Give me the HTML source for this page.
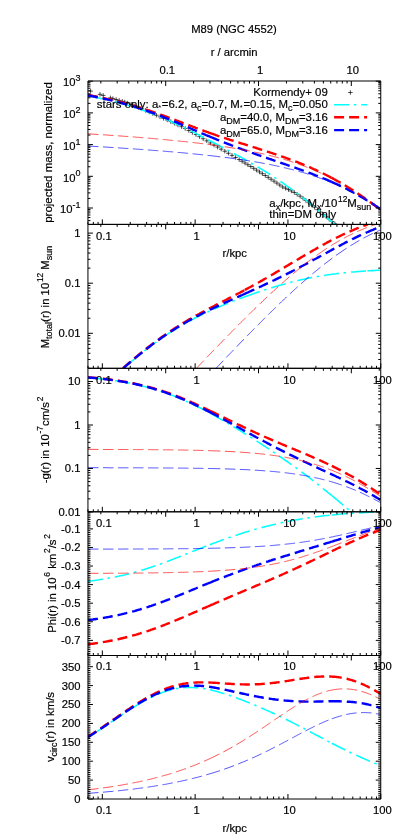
<!DOCTYPE html>
<html><head><meta charset="utf-8"><title>M89 (NGC 4552)</title>
<style>html,body{margin:0;padding:0;background:#fff}svg{display:block;filter:grayscale(0)}text{stroke:#000;stroke-width:0.18px}</style></head>
<body>
<svg width="407" height="840" viewBox="0 0 407 840" font-family="Liberation Sans, sans-serif" font-size="11.25" fill="#000">
<defs>
<clipPath id="c0"><rect x="87.95" y="81.0" width="292.8" height="143.4"/></clipPath>
<clipPath id="c1"><rect x="87.95" y="224.4" width="292.8" height="143.9"/></clipPath>
<clipPath id="c2"><rect x="87.95" y="368.3" width="292.8" height="143.5"/></clipPath>
<clipPath id="c3"><rect x="87.95" y="511.8" width="292.8" height="143.7"/></clipPath>
<clipPath id="c4"><rect x="87.95" y="655.5" width="292.8" height="143.5"/></clipPath>
</defs>
<rect width="407" height="840" fill="#fff"/>
<g clip-path="url(#c0)" fill="none">
<path d="M88.35,91.14h4.5M90.60,88.89v4.5M97.75,94.33h4.5M100.00,92.08v4.5M100.95,95.43h4.5M103.20,93.18v4.5M108.15,97.86h4.5M110.40,95.61v4.5M110.65,98.64h4.5M112.90,96.39v4.5M113.85,99.53h4.5M116.10,97.28v4.5M116.95,100.43h4.5M119.20,98.18v4.5M120.05,101.35h4.5M122.30,99.10v4.5M122.55,102.12h4.5M124.80,99.87v4.5M125.35,103.11h4.5M127.60,100.86v4.5M128.95,104.48h4.5M131.20,102.23v4.5M132.55,105.89h4.5M134.80,103.64v4.5M136.15,107.35h4.5M138.40,105.10v4.5M139.75,108.85h4.5M142.00,106.60v4.5M143.35,110.39h4.5M145.60,108.14v4.5M146.95,111.95h4.5M149.20,109.70v4.5M150.55,113.57h4.5M152.80,111.32v4.5M154.15,115.22h4.5M156.40,112.97v4.5M157.75,116.82h4.5M160.00,114.57v4.5M161.35,118.36h4.5M163.60,116.11v4.5M164.95,119.95h4.5M167.20,117.70v4.5M168.55,121.59h4.5M170.80,119.34v4.5M172.15,123.26h4.5M174.40,121.01v4.5M175.75,124.97h4.5M178.00,122.72v4.5M179.35,126.71h4.5M181.60,124.46v4.5M182.95,128.49h4.5M185.20,126.24v4.5M186.55,130.47h4.5M188.80,128.22v4.5M190.15,132.50h4.5M192.40,130.25v4.5M193.75,134.56h4.5M196.00,132.31v4.5M197.35,136.64h4.5M199.60,134.39v4.5M200.95,138.73h4.5M203.20,136.48v4.5M204.55,140.83h4.5M206.80,138.58v4.5M208.15,142.95h4.5M210.40,140.70v4.5M211.75,145.07h4.5M214.00,142.82v4.5M215.35,147.10h4.5M217.60,144.85v4.5M218.95,149.15h4.5M221.20,146.90v4.5M222.55,151.20h4.5M224.80,148.95v4.5M226.15,153.26h4.5M228.40,151.01v4.5M229.75,155.35h4.5M232.00,153.10v4.5M233.35,157.44h4.5M235.60,155.19v4.5M236.95,159.55h4.5M239.20,157.30v4.5M239.85,161.26h4.5M242.10,159.01v4.5M242.75,162.99h4.5M245.00,160.74v4.5M245.65,164.74h4.5M247.90,162.49v4.5M248.55,166.51h4.5M250.80,164.26v4.5M251.45,168.30h4.5M253.70,166.05v4.5M254.35,170.12h4.5M256.60,167.87v4.5M257.25,171.93h4.5M259.50,169.68v4.5M260.15,173.70h4.5M262.40,171.45v4.5M263.05,175.51h4.5M265.30,173.26v4.5M265.95,177.35h4.5M268.20,175.10v4.5M268.85,179.22h4.5M271.10,176.97v4.5M271.75,181.13h4.5M274.00,178.88v4.5M274.65,183.07h4.5M276.90,180.82v4.5M277.55,185.04h4.5M279.80,182.79v4.5M280.45,186.97h4.5M282.70,184.72v4.5M283.35,188.25h4.5M285.60,186.00v4.5M286.25,189.58h4.5M288.50,187.33v4.5M289.15,190.94h4.5M291.40,188.69v4.5M292.05,192.45h4.5M294.30,190.20v4.5M294.95,194.29h4.5M297.20,192.04v4.5M297.85,196.17h4.5M300.10,193.92v4.5M300.75,198.20h4.5M303.00,195.95v4.5M303.65,200.43h4.5M305.90,198.18v4.5M306.55,202.69h4.5M308.80,200.44v4.5M309.45,204.99h4.5M311.70,202.74v4.5M312.35,207.31h4.5M314.60,205.06v4.5M315.25,209.67h4.5M317.50,207.42v4.5M318.15,212.06h4.5M320.40,209.81v4.5M321.05,214.38h4.5M323.30,212.13v4.5M323.95,216.72h4.5M326.20,214.47v4.5M326.85,219.09h4.5M329.10,216.84v4.5M329.75,221.49h4.5M332.00,219.24v4.5M332.65,223.91h4.5M334.90,221.66v4.5M335.55,226.35h4.5M337.80,224.10v4.5" stroke="#000" stroke-width="0.7"/>
<path d="M88.0,95.8 89.0,96.0 90.0,96.2 91.0,96.4 92.0,96.6 93.0,96.8 94.0,97.0 95.0,97.2 96.0,97.4 97.0,97.6 98.0,97.9 99.0,98.1 100.0,98.3 101.0,98.5 102.1,98.7 103.1,99.0 104.1,99.2 105.1,99.4 106.1,99.6 107.1,99.9 108.1,100.1 109.1,100.4 110.1,100.6 111.1,100.9 112.1,101.1 113.1,101.4 114.1,101.6 115.2,101.9 116.2,102.1 117.2,102.4 118.2,102.7 119.2,102.9 120.2,103.2 121.2,103.5 122.2,103.8 123.2,104.1 124.2,104.3 125.2,104.6 126.2,104.9 127.2,105.2 128.2,105.5 129.3,105.8 130.3,106.1 131.3,106.4 132.3,106.8 133.3,107.1 134.3,107.4 135.3,107.7 136.3,108.0 137.3,108.4 138.3,108.7 139.3,109.0 140.3,109.4 141.3,109.7 142.4,110.1 143.4,110.4 144.4,110.8 145.4,111.2 146.4,111.5 147.4,111.9 148.4,112.3 149.4,112.6 150.4,113.0 151.4,113.4 152.4,113.8 153.4,114.2 154.4,114.6 155.4,115.0 156.5,115.4 157.5,115.8 158.5,116.2 159.5,116.6 160.5,117.0 161.5,117.4 162.5,117.8 163.5,118.3 164.5,118.7 165.5,119.1 166.5,119.6 167.5,120.0 168.5,120.4 169.6,120.9 170.6,121.3 171.6,121.8 172.6,122.2 173.6,122.7 174.6,123.2 175.6,123.6 176.6,124.1 177.6,124.6 178.6,125.0 179.6,125.5 180.6,126.0 181.6,126.5 182.6,127.0 183.7,127.4 184.7,127.9 185.7,128.4 186.7,128.9 187.7,129.4 188.7,129.9 189.7,130.4 190.7,130.9 191.7,131.4 192.7,131.9 193.7,132.4 194.7,132.9 195.7,133.4 196.8,133.9 197.8,134.4 198.8,135.0 199.8,135.5 200.8,136.0 201.8,136.5 202.8,137.0 203.8,137.5 204.8,138.1 205.8,138.6 206.8,139.1 207.8,139.6 208.8,140.1 209.9,140.7M209.9,140.7 210.9,141.2 211.9,141.7 212.9,142.2 213.9,142.8 214.9,143.3 215.9,143.8 216.9,144.4 217.9,144.9 218.9,145.4 219.9,145.9 220.9,146.5 221.9,147.0 222.9,147.5 224.0,148.1 225.0,148.6 226.0,149.1 227.0,149.7 228.0,150.2 229.0,150.8 230.0,151.3 231.0,151.8 232.0,152.4 233.0,152.9 234.0,153.5 235.0,154.0 236.0,154.6 237.1,155.1 238.1,155.7 239.1,156.2 240.1,156.8 241.1,157.3 242.1,157.9 243.1,158.4 244.1,159.0 245.1,159.6 246.1,160.1 247.1,160.7 248.1,161.3 249.1,161.9 250.1,162.4 251.2,163.0 252.2,163.6 253.2,164.2 254.2,164.8 255.2,165.4 256.2,166.0 257.2,166.5 258.2,167.2 259.2,167.8 260.2,168.4 261.2,169.0 262.2,169.6 263.2,170.2 264.3,170.8 265.3,171.5 266.3,172.1 267.3,172.7 268.3,173.4 269.3,174.0 270.3,174.6 271.3,175.3 272.3,175.9 273.3,176.6 274.3,177.3 275.3,177.9 276.3,178.6 277.3,179.3 278.4,180.0 279.4,180.6 280.4,181.3 281.4,182.0 282.4,182.7 283.4,183.4 284.4,184.1 285.4,184.8 286.4,185.5 287.4,186.3 288.4,187.0 289.4,187.7 290.4,188.4 291.5,189.2 292.5,189.9 293.5,190.7 294.5,191.4 295.5,192.2 296.5,192.9 297.5,193.7 298.5,194.4 299.5,195.2 300.5,196.0 301.5,196.8 302.5,197.5 303.5,198.3 304.5,199.1 305.6,199.9 306.6,200.7 307.6,201.5 308.6,202.3 309.6,203.1 310.6,203.9 311.6,204.8 312.6,205.6 313.6,206.4 314.6,207.2 315.6,208.1 316.6,208.9 317.6,209.7 318.7,210.6 319.7,211.4 320.7,212.3 321.7,213.1 322.7,214.0 323.7,214.9 324.7,215.7 325.7,216.6 326.7,217.5 327.7,218.3 328.7,219.2 329.7,220.1 330.7,221.0 331.8,221.9M331.8,221.9 333.2,223.1 334.6,224.4" stroke="#00ffff" stroke-width="1.55" stroke-dasharray="15 4.7 2.5 5"/>
<path d="M88.0,95.0 89.0,95.2 90.0,95.3 91.0,95.5 92.0,95.7 93.0,95.9 94.0,96.1 95.0,96.3 96.0,96.5 97.0,96.7 98.0,96.9 99.0,97.1 100.0,97.3 101.0,97.5 102.1,97.8 103.1,98.0 104.1,98.2 105.1,98.4 106.1,98.6 107.1,98.9 108.1,99.1 109.1,99.3 110.1,99.5 111.1,99.8 112.1,100.0 113.1,100.3 114.1,100.5 115.2,100.7 116.2,101.0 117.2,101.2 118.2,101.5 119.2,101.7 120.2,102.0 121.2,102.3 122.2,102.5 123.2,102.8 124.2,103.1 125.2,103.3 126.2,103.6 127.2,103.9 128.2,104.1 129.3,104.4 130.3,104.7 131.3,105.0 132.3,105.3 133.3,105.6 134.3,105.9 135.3,106.2 136.3,106.5 137.3,106.8 138.3,107.1 139.3,107.4 140.3,107.7 141.3,108.0 142.4,108.3 143.4,108.7 144.4,109.0 145.4,109.3 146.4,109.6 147.4,110.0 148.4,110.3 149.4,110.6 150.4,111.0 151.4,111.3 152.4,111.7 153.4,112.0 154.4,112.4 155.4,112.7 156.5,113.1 157.5,113.4 158.5,113.8 159.5,114.1 160.5,114.5 161.5,114.9 162.5,115.2 163.5,115.6 164.5,116.0 165.5,116.3 166.5,116.7 167.5,117.1 168.5,117.5 169.6,117.8 170.6,118.2 171.6,118.6 172.6,119.0 173.6,119.4 174.6,119.7 175.6,120.1 176.6,120.5 177.6,120.9 178.6,121.3 179.6,121.7 180.6,122.0 181.6,122.4 182.6,122.8 183.7,123.2 184.7,123.6 185.7,124.0 186.7,124.4 187.7,124.7 188.7,125.1 189.7,125.5 190.7,125.9 191.7,126.3 192.7,126.7 193.7,127.0 194.7,127.4 195.7,127.8 196.8,128.2 197.8,128.6 198.8,128.9 199.8,129.3 200.8,129.7 201.8,130.1 202.8,130.4 203.8,130.8 204.8,131.2 205.8,131.5 206.8,131.9 207.8,132.2 208.8,132.6 209.9,133.0M209.9,133.0 210.9,133.3 211.9,133.7 212.9,134.0 213.9,134.4 214.9,134.7 215.9,135.1 216.9,135.4 217.9,135.8 218.9,136.1 219.9,136.4 220.9,136.8 221.9,137.1 222.9,137.4 224.0,137.8 225.0,138.1 226.0,138.4 227.0,138.8 228.0,139.1 229.0,139.4 230.0,139.8 231.0,140.1 232.0,140.4 233.0,140.7 234.0,141.0 235.0,141.4 236.0,141.7 237.1,142.0 238.1,142.3 239.1,142.6 240.1,143.0 241.1,143.3 242.1,143.6 243.1,143.9 244.1,144.2 245.1,144.5 246.1,144.9 247.1,145.2 248.1,145.5 249.1,145.8 250.1,146.1 251.2,146.4 252.2,146.8 253.2,147.1 254.2,147.4 255.2,147.7 256.2,148.0 257.2,148.3 258.2,148.7 259.2,149.0 260.2,149.3 261.2,149.6 262.2,149.9 263.2,150.3 264.3,150.6 265.3,150.9 266.3,151.2 267.3,151.6 268.3,151.9 269.3,152.2 270.3,152.6 271.3,152.9 272.3,153.2 273.3,153.6 274.3,153.9 275.3,154.2 276.3,154.6 277.3,154.9 278.4,155.3 279.4,155.6 280.4,155.9 281.4,156.3 282.4,156.7 283.4,157.0 284.4,157.4 285.4,157.7 286.4,158.1 287.4,158.4 288.4,158.8 289.4,159.2 290.4,159.6 291.5,159.9 292.5,160.3 293.5,160.7 294.5,161.1 295.5,161.5 296.5,161.8 297.5,162.2 298.5,162.6 299.5,163.0 300.5,163.4 301.5,163.8 302.5,164.2 303.5,164.7 304.5,165.1 305.6,165.5 306.6,165.9 307.6,166.3 308.6,166.8 309.6,167.2 310.6,167.6 311.6,168.1 312.6,168.5 313.6,169.0 314.6,169.4 315.6,169.9 316.6,170.4 317.6,170.8 318.7,171.3 319.7,171.8 320.7,172.3 321.7,172.8 322.7,173.2 323.7,173.7 324.7,174.2 325.7,174.8 326.7,175.3 327.7,175.8 328.7,176.3 329.7,176.8 330.7,177.4 331.8,177.9M331.8,177.9 332.8,178.4 333.8,179.0 334.8,179.5 335.8,180.1 336.8,180.6 337.8,181.2 338.8,181.7 339.8,182.3 340.8,182.9 341.8,183.5 342.8,184.1 343.8,184.7 344.8,185.3 345.8,185.9 346.8,186.5 347.8,187.1 348.8,187.7 349.8,188.3 350.8,189.0 351.8,189.6 352.8,190.2 353.8,190.9 354.8,191.5 355.8,192.2 356.8,192.8 357.8,193.5 358.8,194.2 359.8,194.8 360.8,195.5 361.8,196.2 362.8,196.9 363.8,197.6 364.8,198.3 365.8,199.0 366.8,199.7 367.8,200.4 368.8,201.2 369.8,201.9 370.8,202.6 371.8,203.3 372.8,204.1 373.8,204.8 374.8,205.6 375.8,206.3 376.8,207.1 377.8,207.9 378.8,208.6 379.8,209.4 380.8,210.2" stroke="#ff0000" stroke-width="2.4" stroke-dasharray="10 5"/>
<path d="M88.0,95.5 89.0,95.7 90.0,95.8 91.0,96.0 92.0,96.2 93.0,96.4 94.0,96.6 95.0,96.8 96.0,97.0 97.0,97.2 98.0,97.5 99.0,97.7 100.0,97.9 101.0,98.1 102.1,98.3 103.1,98.5 104.1,98.8 105.1,99.0 106.1,99.2 107.1,99.4 108.1,99.7 109.1,99.9 110.1,100.2 111.1,100.4 112.1,100.6 113.1,100.9 114.1,101.1 115.2,101.4 116.2,101.6 117.2,101.9 118.2,102.2 119.2,102.4 120.2,102.7 121.2,103.0 122.2,103.2 123.2,103.5 124.2,103.8 125.2,104.1 126.2,104.4 127.2,104.6 128.2,104.9 129.3,105.2 130.3,105.5 131.3,105.8 132.3,106.1 133.3,106.4 134.3,106.7 135.3,107.0 136.3,107.4 137.3,107.7 138.3,108.0 139.3,108.3 140.3,108.7 141.3,109.0 142.4,109.3 143.4,109.7 144.4,110.0 145.4,110.3 146.4,110.7 147.4,111.0 148.4,111.4 149.4,111.8 150.4,112.1 151.4,112.5 152.4,112.8 153.4,113.2 154.4,113.6 155.4,114.0 156.5,114.3 157.5,114.7 158.5,115.1 159.5,115.5 160.5,115.9 161.5,116.3 162.5,116.7 163.5,117.1 164.5,117.5 165.5,117.9 166.5,118.3 167.5,118.7 168.5,119.1 169.6,119.5 170.6,119.9 171.6,120.3 172.6,120.7 173.6,121.2 174.6,121.6 175.6,122.0 176.6,122.4 177.6,122.8 178.6,123.3 179.6,123.7 180.6,124.1 181.6,124.6 182.6,125.0 183.7,125.4 184.7,125.9 185.7,126.3 186.7,126.7 187.7,127.2 188.7,127.6 189.7,128.0 190.7,128.5 191.7,128.9 192.7,129.3 193.7,129.8 194.7,130.2 195.7,130.7 196.8,131.1 197.8,131.5 198.8,132.0 199.8,132.4 200.8,132.8 201.8,133.3 202.8,133.7 203.8,134.1 204.8,134.5 205.8,135.0 206.8,135.4 207.8,135.8 208.8,136.2 209.9,136.7M209.9,136.7 210.9,137.1 211.9,137.5 212.9,137.9 213.9,138.3 214.9,138.7 215.9,139.2 216.9,139.6 217.9,140.0 218.9,140.4 219.9,140.8 220.9,141.2 221.9,141.6 222.9,142.0 224.0,142.4 225.0,142.8 226.0,143.2 227.0,143.6 228.0,144.0 229.0,144.3 230.0,144.7 231.0,145.1 232.0,145.5 233.0,145.9 234.0,146.3 235.0,146.6 236.0,147.0 237.1,147.4 238.1,147.8 239.1,148.1 240.1,148.5 241.1,148.9 242.1,149.3 243.1,149.6 244.1,150.0 245.1,150.4 246.1,150.7 247.1,151.1 248.1,151.4 249.1,151.8 250.1,152.2 251.2,152.5 252.2,152.9 253.2,153.2 254.2,153.6 255.2,153.9 256.2,154.3 257.2,154.7 258.2,155.0 259.2,155.4 260.2,155.7 261.2,156.1 262.2,156.4 263.2,156.8 264.3,157.1 265.3,157.5 266.3,157.8 267.3,158.2 268.3,158.5 269.3,158.9 270.3,159.2 271.3,159.5 272.3,159.9 273.3,160.2 274.3,160.6 275.3,160.9 276.3,161.3 277.3,161.6 278.4,162.0 279.4,162.3 280.4,162.7 281.4,163.0 282.4,163.3 283.4,163.7 284.4,164.0 285.4,164.4 286.4,164.7 287.4,165.1 288.4,165.4 289.4,165.8 290.4,166.1 291.5,166.5 292.5,166.8 293.5,167.2 294.5,167.5 295.5,167.9 296.5,168.2 297.5,168.6 298.5,168.9 299.5,169.3 300.5,169.7 301.5,170.0 302.5,170.4 303.5,170.7 304.5,171.1 305.6,171.5 306.6,171.8 307.6,172.2 308.6,172.6 309.6,173.0 310.6,173.3 311.6,173.7 312.6,174.1 313.6,174.5 314.6,174.9 315.6,175.3 316.6,175.6 317.6,176.0 318.7,176.4 319.7,176.8 320.7,177.2 321.7,177.7 322.7,178.1 323.7,178.5 324.7,178.9 325.7,179.3 326.7,179.7 327.7,180.2 328.7,180.6 329.7,181.0 330.7,181.5 331.8,181.9M331.8,181.9 332.8,182.4 333.8,182.8 334.8,183.3 335.8,183.7 336.8,184.2 337.8,184.6 338.8,185.1 339.8,185.6 340.8,186.1 341.8,186.5 342.8,187.0 343.8,187.5 344.8,188.0 345.8,188.5 346.8,189.0 347.8,189.5 348.8,190.1 349.8,190.6 350.8,191.1 351.8,191.6 352.8,192.2 353.8,192.7 354.8,193.3 355.8,193.8 356.8,194.4 357.8,194.9 358.8,195.5 359.8,196.1 360.8,196.6 361.8,197.2 362.8,197.8 363.8,198.4 364.8,199.0 365.8,199.6 366.8,200.2 367.8,200.8 368.8,201.5 369.8,202.1 370.8,202.7 371.8,203.3 372.8,204.0 373.8,204.6 374.8,205.3 375.8,205.9 376.8,206.6 377.8,207.3 378.8,207.9 379.8,208.6 380.8,209.3" stroke="#0000ff" stroke-width="2.4" stroke-dasharray="10 5"/>
<path d="M88.0,133.8 89.0,133.9 90.0,133.9 91.0,134.0 92.0,134.1 93.0,134.1 94.0,134.2 95.0,134.3 96.0,134.3 97.0,134.4 98.0,134.5 99.0,134.5 100.0,134.6 101.0,134.6 102.1,134.7 103.1,134.8 104.1,134.8 105.1,134.9 106.1,135.0 107.1,135.0 108.1,135.1 109.1,135.2 110.1,135.3 111.1,135.3 112.1,135.4 113.1,135.5 114.1,135.5 115.2,135.6 116.2,135.7 117.2,135.7 118.2,135.8 119.2,135.9 120.2,136.0 121.2,136.0 122.2,136.1 123.2,136.2 124.2,136.3 125.2,136.3 126.2,136.4 127.2,136.5 128.2,136.6 129.3,136.6 130.3,136.7 131.3,136.8 132.3,136.9 133.3,136.9 134.3,137.0 135.3,137.1 136.3,137.2 137.3,137.3 138.3,137.3 139.3,137.4 140.3,137.5 141.3,137.6 142.4,137.7 143.4,137.7 144.4,137.8 145.4,137.9 146.4,138.0 147.4,138.1 148.4,138.2 149.4,138.2 150.4,138.3 151.4,138.4 152.4,138.5 153.4,138.6 154.4,138.7 155.4,138.8 156.5,138.9 157.5,138.9 158.5,139.0 159.5,139.1 160.5,139.2 161.5,139.3 162.5,139.4 163.5,139.5 164.5,139.6 165.5,139.7 166.5,139.8 167.5,139.9 168.5,140.0 169.6,140.1 170.6,140.2 171.6,140.3 172.6,140.4 173.6,140.5 174.6,140.6 175.6,140.7 176.6,140.8 177.6,140.9 178.6,141.0 179.6,141.1 180.6,141.2 181.6,141.3 182.6,141.4 183.7,141.5 184.7,141.6 185.7,141.7 186.7,141.8 187.7,141.9 188.7,142.1 189.7,142.2 190.7,142.3 191.7,142.4 192.7,142.5 193.7,142.6 194.7,142.7 195.7,142.9 196.8,143.0 197.8,143.1 198.8,143.2 199.8,143.3 200.8,143.5 201.8,143.6 202.8,143.7 203.8,143.8 204.8,144.0 205.8,144.1 206.8,144.2 207.8,144.4 208.8,144.5 209.9,144.6M209.9,144.6 210.9,144.8 211.9,144.9 212.9,145.0 213.9,145.2 214.9,145.3 215.9,145.4 216.9,145.6 217.9,145.7 218.9,145.9 219.9,146.0 220.9,146.2 221.9,146.3 222.9,146.5 224.0,146.6 225.0,146.8 226.0,146.9 227.0,147.1 228.0,147.2 229.0,147.4 230.0,147.6 231.0,147.7 232.0,147.9 233.0,148.0 234.0,148.2 235.0,148.4 236.0,148.6 237.1,148.7 238.1,148.9 239.1,149.1 240.1,149.3 241.1,149.4 242.1,149.6 243.1,149.8 244.1,150.0 245.1,150.2 246.1,150.4 247.1,150.6 248.1,150.7 249.1,150.9 250.1,151.1 251.2,151.3 252.2,151.5 253.2,151.8 254.2,152.0 255.2,152.2 256.2,152.4 257.2,152.6 258.2,152.8 259.2,153.0 260.2,153.3 261.2,153.5 262.2,153.7 263.2,153.9 264.3,154.2 265.3,154.4 266.3,154.7 267.3,154.9 268.3,155.1 269.3,155.4 270.3,155.6 271.3,155.9 272.3,156.1 273.3,156.4 274.3,156.7 275.3,156.9 276.3,157.2 277.3,157.5 278.4,157.8 279.4,158.0 280.4,158.3 281.4,158.6 282.4,158.9 283.4,159.2 284.4,159.5 285.4,159.8 286.4,160.1 287.4,160.4 288.4,160.7 289.4,161.0 290.4,161.4 291.5,161.7 292.5,162.0 293.5,162.3 294.5,162.7 295.5,163.0 296.5,163.4 297.5,163.7 298.5,164.1 299.5,164.4 300.5,164.8 301.5,165.2 302.5,165.5 303.5,165.9 304.5,166.3 305.6,166.7 306.6,167.1 307.6,167.5 308.6,167.9 309.6,168.3 310.6,168.7 311.6,169.1 312.6,169.5 313.6,169.9 314.6,170.4 315.6,170.8 316.6,171.2 317.6,171.7 318.7,172.1 319.7,172.6 320.7,173.0 321.7,173.5 322.7,174.0 323.7,174.5 324.7,174.9 325.7,175.4 326.7,175.9 327.7,176.4 328.7,176.9 329.7,177.4 330.7,177.9 331.8,178.5M331.8,178.5 332.8,179.0 333.8,179.5 334.8,180.0 335.8,180.6 336.8,181.1 337.8,181.7 338.8,182.2 339.8,182.8 340.8,183.4 341.8,183.9 342.8,184.5 343.8,185.1 344.8,185.7 345.8,186.3 346.8,186.9 347.8,187.5 348.8,188.1 349.8,188.7 350.8,189.3 351.8,189.9 352.8,190.6 353.8,191.2 354.8,191.9 355.8,192.5 356.8,193.2 357.8,193.8 358.8,194.5 359.8,195.2 360.8,195.8 361.8,196.5 362.8,197.2 363.8,197.9 364.8,198.6 365.8,199.3 366.8,200.0 367.8,200.7 368.8,201.4 369.8,202.1 370.8,202.9 371.8,203.6 372.8,204.3 373.8,205.1 374.8,205.8 375.8,206.6 376.8,207.3 377.8,208.1 378.8,208.8 379.8,209.6 380.8,210.4" stroke="#ff0000" stroke-width="0.68" stroke-dasharray="10.5 4.5"/>
<path d="M88.0,146.0 89.0,146.1 90.0,146.1 91.0,146.2 92.0,146.3 93.0,146.3 94.0,146.4 95.0,146.4 96.0,146.5 97.0,146.6 98.0,146.6 99.0,146.7 100.0,146.7 101.0,146.8 102.1,146.9 103.1,146.9 104.1,147.0 105.1,147.0 106.1,147.1 107.1,147.2 108.1,147.2 109.1,147.3 110.1,147.3 111.1,147.4 112.1,147.5 113.1,147.5 114.1,147.6 115.2,147.7 116.2,147.7 117.2,147.8 118.2,147.9 119.2,147.9 120.2,148.0 121.2,148.1 122.2,148.1 123.2,148.2 124.2,148.3 125.2,148.3 126.2,148.4 127.2,148.5 128.2,148.5 129.3,148.6 130.3,148.7 131.3,148.7 132.3,148.8 133.3,148.9 134.3,148.9 135.3,149.0 136.3,149.1 137.3,149.2 138.3,149.2 139.3,149.3 140.3,149.4 141.3,149.4 142.4,149.5 143.4,149.6 144.4,149.7 145.4,149.7 146.4,149.8 147.4,149.9 148.4,150.0 149.4,150.0 150.4,150.1 151.4,150.2 152.4,150.3 153.4,150.4 154.4,150.4 155.4,150.5 156.5,150.6 157.5,150.7 158.5,150.7 159.5,150.8 160.5,150.9 161.5,151.0 162.5,151.1 163.5,151.2 164.5,151.2 165.5,151.3 166.5,151.4 167.5,151.5 168.5,151.6 169.6,151.7 170.6,151.7 171.6,151.8 172.6,151.9 173.6,152.0 174.6,152.1 175.6,152.2 176.6,152.3 177.6,152.4 178.6,152.5 179.6,152.5 180.6,152.6 181.6,152.7 182.6,152.8 183.7,152.9 184.7,153.0 185.7,153.1 186.7,153.2 187.7,153.3 188.7,153.4 189.7,153.5 190.7,153.6 191.7,153.7 192.7,153.8 193.7,153.9 194.7,154.0 195.7,154.1 196.8,154.2 197.8,154.3 198.8,154.4 199.8,154.5 200.8,154.6 201.8,154.7 202.8,154.8 203.8,154.9 204.8,155.0 205.8,155.2 206.8,155.3 207.8,155.4 208.8,155.5 209.9,155.6M209.9,155.6 210.9,155.7 211.9,155.8 212.9,155.9 213.9,156.1 214.9,156.2 215.9,156.3 216.9,156.4 217.9,156.5 218.9,156.7 219.9,156.8 220.9,156.9 221.9,157.0 222.9,157.2 224.0,157.3 225.0,157.4 226.0,157.5 227.0,157.7 228.0,157.8 229.0,157.9 230.0,158.1 231.0,158.2 232.0,158.3 233.0,158.5 234.0,158.6 235.0,158.7 236.0,158.9 237.1,159.0 238.1,159.2 239.1,159.3 240.1,159.5 241.1,159.6 242.1,159.8 243.1,159.9 244.1,160.1 245.1,160.2 246.1,160.4 247.1,160.5 248.1,160.7 249.1,160.9 250.1,161.0 251.2,161.2 252.2,161.3 253.2,161.5 254.2,161.7 255.2,161.8 256.2,162.0 257.2,162.2 258.2,162.4 259.2,162.5 260.2,162.7 261.2,162.9 262.2,163.1 263.2,163.3 264.3,163.5 265.3,163.7 266.3,163.8 267.3,164.0 268.3,164.2 269.3,164.4 270.3,164.6 271.3,164.8 272.3,165.0 273.3,165.2 274.3,165.5 275.3,165.7 276.3,165.9 277.3,166.1 278.4,166.3 279.4,166.5 280.4,166.8 281.4,167.0 282.4,167.2 283.4,167.4 284.4,167.7 285.4,167.9 286.4,168.2 287.4,168.4 288.4,168.7 289.4,168.9 290.4,169.2 291.5,169.4 292.5,169.7 293.5,169.9 294.5,170.2 295.5,170.5 296.5,170.7 297.5,171.0 298.5,171.3 299.5,171.6 300.5,171.9 301.5,172.1 302.5,172.4 303.5,172.7 304.5,173.0 305.6,173.3 306.6,173.6 307.6,174.0 308.6,174.3 309.6,174.6 310.6,174.9 311.6,175.2 312.6,175.6 313.6,175.9 314.6,176.2 315.6,176.6 316.6,176.9 317.6,177.3 318.7,177.6 319.7,178.0 320.7,178.4 321.7,178.7 322.7,179.1 323.7,179.5 324.7,179.9 325.7,180.3 326.7,180.7 327.7,181.1 328.7,181.5 329.7,181.9 330.7,182.3 331.8,182.7M331.8,182.7 332.8,183.1 333.8,183.5 334.8,184.0 335.8,184.4 336.8,184.8 337.8,185.3 338.8,185.7 339.8,186.2 340.8,186.6 341.8,187.1 342.8,187.6 343.8,188.1 344.8,188.5 345.8,189.0 346.8,189.5 347.8,190.0 348.8,190.5 349.8,191.0 350.8,191.5 351.8,192.1 352.8,192.6 353.8,193.1 354.8,193.6 355.8,194.2 356.8,194.7 357.8,195.3 358.8,195.8 359.8,196.4 360.8,197.0 361.8,197.5 362.8,198.1 363.8,198.7 364.8,199.3 365.8,199.9 366.8,200.5 367.8,201.1 368.8,201.7 369.8,202.3 370.8,203.0 371.8,203.6 372.8,204.2 373.8,204.9 374.8,205.5 375.8,206.2 376.8,206.8 377.8,207.5 378.8,208.1 379.8,208.8 380.8,209.5" stroke="#0000ff" stroke-width="0.68" stroke-dasharray="10.5 4.5"/>
</g>
<g clip-path="url(#c1)" fill="none">
<path d="M123.6,368.3 124.6,367.4 125.6,366.5 126.6,365.6 127.6,364.7 128.6,363.9 129.6,363.0 130.6,362.2 131.6,361.3 132.7,360.5 133.7,359.6 134.7,358.8 135.7,357.9 136.7,357.1 137.7,356.3 138.7,355.5 139.7,354.6 140.7,353.8 141.7,353.0 142.7,352.2 143.7,351.4 144.7,350.6 145.7,349.8 146.8,349.1 147.8,348.3 148.8,347.5 149.8,346.8 150.8,346.0 151.8,345.2 152.8,344.5 153.8,343.7 154.8,343.0 155.8,342.3 156.8,341.5 157.8,340.8 158.8,340.1 159.9,339.4 160.9,338.7 161.9,338.0 162.9,337.3 163.9,336.6 164.9,335.9 165.9,335.2 166.9,334.6 167.9,333.9 168.9,333.2 169.9,332.6 170.9,331.9 171.9,331.3 173.0,330.7 174.0,330.0 175.0,329.4 176.0,328.8 177.0,328.2 178.0,327.6 179.0,327.0 180.0,326.4 181.0,325.8 182.0,325.2 183.0,324.6 184.0,324.0 185.0,323.4 186.0,322.9 187.1,322.3 188.1,321.8 189.1,321.2 190.1,320.7 191.1,320.1 192.1,319.6 193.1,319.1 194.1,318.5 195.1,318.0 196.1,317.5 197.1,317.0 198.1,316.5 199.1,316.0 200.2,315.5 201.2,315.0 202.2,314.5 203.2,314.0 204.2,313.5 205.2,313.1 206.2,312.6 207.2,312.1 208.2,311.7 209.2,311.2 210.2,310.7 211.2,310.3 212.2,309.8 213.2,309.4 214.3,309.0 215.3,308.5 216.3,308.1 217.3,307.6 218.3,307.2 219.3,306.8 220.3,306.4 221.3,305.9 222.3,305.5 223.3,305.1 224.3,304.7 225.3,304.3 226.3,303.9 227.4,303.5 228.4,303.1 229.4,302.7 230.4,302.3 231.4,301.9 232.4,301.5 233.4,301.1 234.4,300.7 235.4,300.3 236.4,299.9 237.4,299.6 238.4,299.2 239.4,298.8 240.4,298.4 241.5,298.0 242.5,297.7 243.5,297.3 244.5,296.9 245.5,296.6M245.5,296.6 246.5,296.2 247.5,295.8 248.5,295.5 249.5,295.1 250.5,294.7 251.5,294.4 252.5,294.0 253.5,293.7 254.6,293.3 255.6,293.0 256.6,292.6 257.6,292.3 258.6,292.0 259.6,291.6 260.6,291.3 261.6,290.9 262.6,290.6 263.6,290.3 264.6,289.9 265.6,289.6 266.6,289.3 267.6,289.0 268.7,288.6 269.7,288.3 270.7,288.0 271.7,287.7 272.7,287.4 273.7,287.1 274.7,286.8 275.7,286.5 276.7,286.2 277.7,285.9 278.7,285.6 279.7,285.3 280.7,285.0 281.8,284.7 282.8,284.4 283.8,284.2 284.8,283.9 285.8,283.6 286.8,283.3 287.8,283.1 288.8,282.8 289.8,282.5 290.8,282.3 291.8,282.0 292.8,281.8 293.8,281.5 294.9,281.3 295.9,281.0 296.9,280.8 297.9,280.5 298.9,280.3 299.9,280.1 300.9,279.8 301.9,279.6 302.9,279.4 303.9,279.2 304.9,279.0 305.9,278.8 306.9,278.5 307.9,278.3 309.0,278.1 310.0,277.9 311.0,277.7 312.0,277.5 313.0,277.4 314.0,277.2 315.0,277.0 316.0,276.8 317.0,276.6 318.0,276.4 319.0,276.3 320.0,276.1 321.0,275.9 322.1,275.8 323.1,275.6 324.1,275.4 325.1,275.3 326.1,275.1 327.1,275.0 328.1,274.8 329.1,274.7 330.1,274.6 331.1,274.4 332.1,274.3 333.1,274.1 334.1,274.0 335.1,273.9 336.2,273.8 337.2,273.6 338.2,273.5 339.2,273.4 340.2,273.3 341.2,273.2 342.2,273.0 343.2,272.9 344.2,272.8 345.2,272.7 346.2,272.6 347.2,272.5 348.2,272.4 349.3,272.3 350.3,272.2 351.3,272.1 352.3,272.0 353.3,272.0 354.3,271.9 355.3,271.8 356.3,271.7 357.3,271.6 358.3,271.5 359.3,271.5 360.3,271.4 361.3,271.3 362.3,271.2 363.4,271.2 364.4,271.1 365.4,271.0 366.4,270.9 367.4,270.9M367.4,270.9 368.4,270.8 369.4,270.8 370.5,270.7 371.5,270.6 372.5,270.6 373.6,270.5 374.6,270.5 375.6,270.4 376.6,270.3 377.7,270.3 378.7,270.2 379.7,270.2 380.8,270.1" stroke="#00ffff" stroke-width="1.55" stroke-dasharray="15 4.7 2.5 5"/>
<path d="M122.9,368.3 123.9,367.4 124.9,366.5 125.9,365.6 126.9,364.7 127.9,363.8 128.9,363.0 130.0,362.1 131.0,361.2 132.0,360.4 133.0,359.5 134.0,358.7 135.0,357.8 136.0,357.0 137.0,356.2 138.0,355.3 139.0,354.5 140.0,353.7 141.0,352.8 142.0,352.0 143.1,351.2 144.1,350.4 145.1,349.6 146.1,348.8 147.1,348.0 148.1,347.2 149.1,346.5 150.1,345.7 151.1,344.9 152.1,344.2 153.1,343.4 154.1,342.6 155.1,341.9 156.1,341.1 157.2,340.4 158.2,339.7 159.2,338.9 160.2,338.2 161.2,337.5 162.2,336.8 163.2,336.1 164.2,335.4 165.2,334.7 166.2,334.0 167.2,333.3 168.2,332.6 169.2,331.9 170.3,331.2 171.3,330.6 172.3,329.9 173.3,329.3 174.3,328.6 175.3,328.0 176.3,327.3 177.3,326.7 178.3,326.0 179.3,325.4 180.3,324.8 181.3,324.2 182.3,323.5 183.3,322.9 184.4,322.3 185.4,321.7 186.4,321.1 187.4,320.5 188.4,319.9 189.4,319.3 190.4,318.8 191.4,318.2 192.4,317.6 193.4,317.0 194.4,316.5 195.4,315.9 196.4,315.3 197.5,314.8 198.5,314.2 199.5,313.7 200.5,313.1 201.5,312.6 202.5,312.0 203.5,311.5 204.5,311.0 205.5,310.4 206.5,309.9 207.5,309.4 208.5,308.8 209.5,308.3 210.5,307.8 211.6,307.2 212.6,306.7 213.6,306.2 214.6,305.7 215.6,305.1 216.6,304.6 217.6,304.1 218.6,303.6 219.6,303.1 220.6,302.6 221.6,302.0 222.6,301.5 223.6,301.0 224.7,300.5 225.7,300.0 226.7,299.5 227.7,298.9 228.7,298.4 229.7,297.9 230.7,297.4 231.7,296.9 232.7,296.3 233.7,295.8 234.7,295.3 235.7,294.8 236.7,294.2 237.8,293.7 238.8,293.2 239.8,292.7 240.8,292.1 241.8,291.6 242.8,291.1 243.8,290.5 244.8,290.0M244.8,290.0 245.8,289.4 246.8,288.9 247.8,288.4 248.8,287.8 249.8,287.3 250.8,286.7 251.9,286.2 252.9,285.6 253.9,285.1 254.9,284.5 255.9,284.0 256.9,283.4 257.9,282.8 258.9,282.3 259.9,281.7 260.9,281.1 261.9,280.6 262.9,280.0 263.9,279.4 265.0,278.8 266.0,278.3 267.0,277.7 268.0,277.1 269.0,276.5 270.0,275.9 271.0,275.4 272.0,274.8 273.0,274.2 274.0,273.6 275.0,273.0 276.0,272.4 277.0,271.8 278.0,271.2 279.1,270.6 280.1,270.0 281.1,269.4 282.1,268.8 283.1,268.2 284.1,267.6 285.1,267.0 286.1,266.4 287.1,265.8 288.1,265.2 289.1,264.6 290.1,264.0 291.1,263.4 292.2,262.8 293.2,262.2 294.2,261.6 295.2,261.0 296.2,260.4 297.2,259.8 298.2,259.2 299.2,258.6 300.2,258.0 301.2,257.4 302.2,256.8 303.2,256.2 304.2,255.6 305.2,255.0 306.3,254.4 307.3,253.8 308.3,253.2 309.3,252.6 310.3,252.1 311.3,251.5 312.3,250.9 313.3,250.3 314.3,249.7 315.3,249.2 316.3,248.6 317.3,248.0 318.3,247.4 319.4,246.9 320.4,246.3 321.4,245.7 322.4,245.2 323.4,244.6 324.4,244.1 325.4,243.5 326.4,243.0 327.4,242.4 328.4,241.9 329.4,241.4 330.4,240.8 331.4,240.3 332.4,239.8 333.5,239.3 334.5,238.8 335.5,238.3 336.5,237.7 337.5,237.2 338.5,236.7 339.5,236.3 340.5,235.8 341.5,235.3 342.5,234.8 343.5,234.3 344.5,233.9 345.5,233.4 346.6,232.9 347.6,232.5 348.6,232.0 349.6,231.6 350.6,231.2 351.6,230.7 352.6,230.3 353.6,229.9 354.6,229.4 355.6,229.0 356.6,228.6 357.6,228.2 358.6,227.8 359.7,227.4 360.7,227.0 361.7,226.7 362.7,226.3 363.7,225.9 364.7,225.5 365.7,225.2 366.7,224.8M366.7,224.8 367.9,224.4" stroke="#ff0000" stroke-width="2.4" stroke-dasharray="10 5"/>
<path d="M123.3,368.3 124.3,367.4 125.3,366.5 126.3,365.6 127.3,364.8 128.3,363.9 129.3,363.0 130.3,362.2 131.4,361.3 132.4,360.5 133.4,359.6 134.4,358.8 135.4,357.9 136.4,357.1 137.4,356.3 138.4,355.4 139.4,354.6 140.4,353.8 141.4,353.0 142.4,352.2 143.4,351.4 144.4,350.6 145.5,349.8 146.5,349.0 147.5,348.2 148.5,347.4 149.5,346.7 150.5,345.9 151.5,345.1 152.5,344.4 153.5,343.6 154.5,342.9 155.5,342.1 156.5,341.4 157.5,340.7 158.6,340.0 159.6,339.2 160.6,338.5 161.6,337.8 162.6,337.1 163.6,336.4 164.6,335.7 165.6,335.0 166.6,334.4 167.6,333.7 168.6,333.0 169.6,332.3 170.6,331.7 171.7,331.0 172.7,330.4 173.7,329.7 174.7,329.1 175.7,328.5 176.7,327.8 177.7,327.2 178.7,326.6 179.7,326.0 180.7,325.4 181.7,324.8 182.7,324.2 183.7,323.6 184.7,323.0 185.8,322.4 186.8,321.9 187.8,321.3 188.8,320.7 189.8,320.2 190.8,319.6 191.8,319.0 192.8,318.5 193.8,317.9 194.8,317.4 195.8,316.9 196.8,316.3 197.8,315.8 198.9,315.3 199.9,314.8 200.9,314.2 201.9,313.7 202.9,313.2 203.9,312.7 204.9,312.2 205.9,311.7 206.9,311.2 207.9,310.7 208.9,310.2 209.9,309.7 210.9,309.3 211.9,308.8 213.0,308.3 214.0,307.8 215.0,307.3 216.0,306.9 217.0,306.4 218.0,305.9 219.0,305.5 220.0,305.0 221.0,304.5 222.0,304.1 223.0,303.6 224.0,303.2 225.0,302.7 226.1,302.2 227.1,301.8 228.1,301.3 229.1,300.9 230.1,300.4 231.1,300.0 232.1,299.5 233.1,299.1 234.1,298.6 235.1,298.1 236.1,297.7 237.1,297.2 238.1,296.8 239.1,296.3 240.2,295.9 241.2,295.4 242.2,295.0 243.2,294.5 244.2,294.1 245.2,293.6M245.2,293.6 246.2,293.2 247.2,292.7 248.2,292.3 249.2,291.8 250.2,291.3 251.2,290.9 252.2,290.4 253.3,290.0 254.3,289.5 255.3,289.0 256.3,288.6 257.3,288.1 258.3,287.7 259.3,287.2 260.3,286.7 261.3,286.3 262.3,285.8 263.3,285.3 264.3,284.9 265.3,284.4 266.3,283.9 267.4,283.4 268.4,283.0 269.4,282.5 270.4,282.0 271.4,281.5 272.4,281.0 273.4,280.5 274.4,280.1 275.4,279.6 276.4,279.1 277.4,278.6 278.4,278.1 279.4,277.6 280.5,277.1 281.5,276.6 282.5,276.1 283.5,275.6 284.5,275.1 285.5,274.6 286.5,274.1 287.5,273.6 288.5,273.1 289.5,272.6 290.5,272.1 291.5,271.6 292.5,271.0 293.6,270.5 294.6,270.0 295.6,269.5 296.6,269.0 297.6,268.4 298.6,267.9 299.6,267.4 300.6,266.9 301.6,266.3 302.6,265.8 303.6,265.3 304.6,264.7 305.6,264.2 306.6,263.6 307.7,263.1 308.7,262.6 309.7,262.0 310.7,261.5 311.7,260.9 312.7,260.4 313.7,259.8 314.7,259.3 315.7,258.7 316.7,258.2 317.7,257.6 318.7,257.1 319.7,256.5 320.8,256.0 321.8,255.4 322.8,254.9 323.8,254.3 324.8,253.8 325.8,253.2 326.8,252.7 327.8,252.1 328.8,251.6 329.8,251.0 330.8,250.5 331.8,249.9 332.8,249.4 333.8,248.8 334.9,248.3 335.9,247.8 336.9,247.2 337.9,246.7 338.9,246.1 339.9,245.6 340.9,245.1 341.9,244.5 342.9,244.0 343.9,243.5 344.9,242.9 345.9,242.4 346.9,241.9 348.0,241.4 349.0,240.9 350.0,240.4 351.0,239.9 352.0,239.4 353.0,238.8 354.0,238.4 355.0,237.9 356.0,237.4 357.0,236.9 358.0,236.4 359.0,235.9 360.0,235.4 361.0,235.0 362.1,234.5 363.1,234.0 364.1,233.6 365.1,233.1 366.1,232.7 367.1,232.2M367.1,232.2 368.1,231.8 369.2,231.3 370.2,230.9 371.3,230.4 372.3,230.0 373.4,229.6 374.4,229.1 375.5,228.7 376.5,228.3 377.6,227.9 378.6,227.5 379.7,227.1 380.8,226.7" stroke="#0000ff" stroke-width="2.4" stroke-dasharray="10 5"/>
<path d="M196.5,368.2 197.5,367.2 198.5,366.1 199.5,365.0 200.5,364.0 201.6,362.9 202.6,361.9 203.6,360.8 204.6,359.8 205.6,358.7 206.6,357.6 207.6,356.6 208.6,355.5 209.6,354.5 210.6,353.4 211.6,352.4 212.6,351.3 213.6,350.3 214.7,349.3 215.7,348.2 216.7,347.2 217.7,346.1 218.7,345.1 219.7,344.0 220.7,343.0 221.7,342.0 222.7,340.9 223.7,339.9 224.7,338.9 225.7,337.8 226.7,336.8 227.7,335.8 228.8,334.7 229.8,333.7 230.8,332.7 231.8,331.6 232.8,330.6 233.8,329.6 234.8,328.6 235.8,327.6 236.8,326.5 237.8,325.5 238.8,324.5 239.8,323.5 240.8,322.5 241.9,321.5 242.9,320.5 243.9,319.5 244.9,318.5 245.9,317.5 246.9,316.5 247.9,315.5 248.9,314.5 249.9,313.5 250.9,312.5 251.9,311.5 252.9,310.5 253.9,309.5 254.9,308.6 256.0,307.6 257.0,306.6 258.0,305.6 259.0,304.7 260.0,303.7 261.0,302.7 262.0,301.8 263.0,300.8 264.0,299.9 265.0,298.9 266.0,297.9 267.0,297.0 268.0,296.1 269.1,295.1 270.1,294.2 271.1,293.2 272.1,292.3 273.1,291.4 274.1,290.4 275.1,289.5 276.1,288.6 277.1,287.7 278.1,286.8 279.1,285.9 280.1,285.0 281.1,284.1 282.1,283.2 283.2,282.3 284.2,281.4 285.2,280.5 286.2,279.6 287.2,278.8 288.2,277.9 289.2,277.0 290.2,276.2 291.2,275.3 292.2,274.4 293.2,273.6 294.2,272.8 295.2,271.9 296.3,271.1 297.3,270.2 298.3,269.4 299.3,268.6 300.3,267.8 301.3,267.0 302.3,266.2 303.3,265.4 304.3,264.6 305.3,263.8 306.3,263.0 307.3,262.2 308.3,261.5 309.4,260.7 310.4,259.9 311.4,259.2 312.4,258.4 313.4,257.7 314.4,257.0 315.4,256.2 316.4,255.5 317.4,254.8 318.4,254.1M318.4,254.1 319.4,253.4 320.4,252.7 321.4,252.0 322.4,251.3 323.4,250.6 324.4,249.9 325.4,249.3 326.4,248.6 327.4,248.0 328.4,247.3 329.4,246.7 330.4,246.1 331.4,245.4 332.4,244.8 333.4,244.2 334.4,243.6 335.4,243.0 336.4,242.4 337.4,241.8 338.4,241.2 339.4,240.7 340.4,240.1 341.4,239.5 342.4,239.0 343.4,238.4 344.4,237.9 345.4,237.4 346.4,236.8 347.4,236.3 348.4,235.8 349.5,235.3 350.5,234.8 351.5,234.3 352.5,233.8 353.5,233.3 354.5,232.9 355.5,232.4 356.5,231.9 357.5,231.5 358.5,231.0 359.5,230.6 360.5,230.2 361.5,229.7 362.5,229.3 363.5,228.9 364.5,228.5 365.5,228.1 366.5,227.7 367.5,227.3 368.5,226.9 369.5,226.5 370.5,226.2 371.5,225.8 372.5,225.5 373.5,225.1 374.5,224.8 375.5,224.4" stroke="#ff0000" stroke-width="0.68" stroke-dasharray="10.5 4.5"/>
<path d="M216.0,368.3 217.1,367.2 218.1,366.1 219.1,365.1 220.1,364.0 221.1,363.0 222.1,361.9 223.1,360.9 224.1,359.8 225.1,358.7 226.1,357.7 227.1,356.6 228.1,355.6 229.1,354.5 230.1,353.5 231.2,352.4 232.2,351.4 233.2,350.3 234.2,349.3 235.2,348.3 236.2,347.2 237.2,346.2 238.2,345.1 239.2,344.1 240.2,343.0 241.2,342.0 242.2,341.0 243.2,339.9 244.3,338.9 245.3,337.9 246.3,336.8 247.3,335.8 248.3,334.8 249.3,333.7 250.3,332.7 251.3,331.7 252.3,330.7 253.3,329.6 254.3,328.6 255.3,327.6 256.3,326.6 257.3,325.6 258.4,324.6 259.4,323.6 260.4,322.5 261.4,321.5 262.4,320.5 263.4,319.5 264.4,318.5 265.4,317.5 266.4,316.5 267.4,315.5 268.4,314.5 269.4,313.5 270.4,312.5 271.5,311.6 272.5,310.6 273.5,309.6 274.5,308.6 275.5,307.6 276.5,306.7 277.5,305.7 278.5,304.7 279.5,303.7 280.5,302.8 281.5,301.8 282.5,300.9 283.5,299.9 284.5,298.9 285.6,298.0 286.6,297.0 287.6,296.1 288.6,295.2 289.6,294.2 290.6,293.3 291.6,292.3 292.6,291.4 293.6,290.5 294.6,289.6 295.6,288.6 296.6,287.7 297.6,286.8 298.7,285.9 299.7,285.0 300.7,284.1 301.7,283.2 302.7,282.3 303.7,281.4 304.7,280.5 305.7,279.7 306.7,278.8 307.7,277.9 308.7,277.1 309.7,276.2 310.7,275.3 311.8,274.5 312.8,273.6 313.8,272.8 314.8,271.9 315.8,271.1 316.8,270.3 317.8,269.5 318.8,268.6 319.8,267.8 320.8,267.0 321.8,266.2 322.8,265.4 323.8,264.6 324.8,263.8 325.9,263.0 326.9,262.3 327.9,261.5 328.9,260.7 329.9,260.0 330.9,259.2 331.9,258.5 332.9,257.7 333.9,257.0 334.9,256.3 335.9,255.5 336.9,254.8 337.9,254.1M337.9,254.1 339.0,253.4 340.0,252.7 341.0,252.0 342.0,251.3 343.0,250.6 344.1,249.9 345.1,249.2 346.1,248.6 347.1,247.9 348.1,247.2 349.2,246.6 350.2,245.9 351.2,245.3 352.2,244.7 353.2,244.1 354.3,243.4 355.3,242.8 356.3,242.2 357.3,241.6 358.3,241.0 359.3,240.5 360.4,239.9 361.4,239.3 362.4,238.8 363.4,238.2 364.4,237.7 365.5,237.1 366.5,236.6 367.5,236.1 368.5,235.5 369.5,235.0 370.6,234.5 371.6,234.0 372.6,233.5 373.6,233.1 374.6,232.6 375.7,232.1 376.7,231.6 377.7,231.2 378.7,230.7 379.7,230.3 380.8,229.9" stroke="#0000ff" stroke-width="0.68" stroke-dasharray="10.5 4.5"/>
</g>
<g clip-path="url(#c2)" fill="none">
<path d="M88.0,377.6 89.0,377.7 90.0,377.8 91.0,377.9 92.0,378.0 93.0,378.1 94.0,378.2 95.0,378.3 96.0,378.4 97.0,378.5 98.0,378.6 99.0,378.7 100.0,378.8 101.0,378.9 102.1,379.0 103.1,379.1 104.1,379.2 105.1,379.3 106.1,379.5 107.1,379.6 108.1,379.7 109.1,379.8 110.1,380.0 111.1,380.1 112.1,380.3 113.1,380.4 114.1,380.5 115.2,380.7 116.2,380.8 117.2,381.0 118.2,381.1 119.2,381.3 120.2,381.5 121.2,381.6 122.2,381.8 123.2,382.0 124.2,382.1 125.2,382.3 126.2,382.5 127.2,382.7 128.2,382.9 129.3,383.1 130.3,383.3 131.3,383.5 132.3,383.7 133.3,383.9 134.3,384.1 135.3,384.3 136.3,384.5 137.3,384.8 138.3,385.0 139.3,385.2 140.3,385.5 141.3,385.7 142.4,386.0 143.4,386.2 144.4,386.5 145.4,386.7 146.4,387.0 147.4,387.3 148.4,387.5 149.4,387.8 150.4,388.1 151.4,388.4 152.4,388.7 153.4,389.0 154.4,389.3 155.4,389.6 156.5,389.9 157.5,390.2 158.5,390.5 159.5,390.8 160.5,391.2 161.5,391.5 162.5,391.8 163.5,392.2 164.5,392.5 165.5,392.9 166.5,393.3 167.5,393.6 168.5,394.0 169.6,394.4 170.6,394.7 171.6,395.1 172.6,395.5 173.6,395.9 174.6,396.3 175.6,396.7 176.6,397.1 177.6,397.5 178.6,398.0 179.6,398.4 180.6,398.8 181.6,399.2 182.6,399.7 183.7,400.1 184.7,400.6 185.7,401.0 186.7,401.5 187.7,401.9 188.7,402.4 189.7,402.9 190.7,403.3 191.7,403.8 192.7,404.3 193.7,404.8 194.7,405.3 195.7,405.8 196.8,406.3 197.8,406.8 198.8,407.3 199.8,407.8 200.8,408.3 201.8,408.8 202.8,409.3 203.8,409.9 204.8,410.4 205.8,410.9 206.8,411.5 207.8,412.0 208.8,412.5 209.9,413.1M209.9,413.1 210.9,413.6 211.9,414.2 212.9,414.8 213.9,415.3 214.9,415.9 215.9,416.4 216.9,417.0 217.9,417.6 218.9,418.1 219.9,418.7 220.9,419.3 221.9,419.9 222.9,420.5 224.0,421.0 225.0,421.6 226.0,422.2 227.0,422.8 228.0,423.4 229.0,424.0 230.0,424.6 231.0,425.2 232.0,425.8 233.0,426.4 234.0,427.0 235.0,427.6 236.0,428.2 237.1,428.8 238.1,429.5 239.1,430.1 240.1,430.7 241.1,431.3 242.1,431.9 243.1,432.5 244.1,433.2 245.1,433.8 246.1,434.4 247.1,435.0 248.1,435.7 249.1,436.3 250.1,436.9 251.2,437.6 252.2,438.2 253.2,438.8 254.2,439.5 255.2,440.1 256.2,440.8 257.2,441.4 258.2,442.1 259.2,442.7 260.2,443.3 261.2,444.0 262.2,444.7 263.2,445.3 264.3,446.0 265.3,446.6 266.3,447.3 267.3,447.9 268.3,448.6 269.3,449.3 270.3,450.0 271.3,450.6 272.3,451.3 273.3,452.0 274.3,452.6 275.3,453.3 276.3,454.0 277.3,454.7 278.4,455.4 279.4,456.1 280.4,456.8 281.4,457.5 282.4,458.2 283.4,458.9 284.4,459.6 285.4,460.3 286.4,461.0 287.4,461.7 288.4,462.4 289.4,463.1 290.4,463.8 291.5,464.5 292.5,465.3 293.5,466.0 294.5,466.7 295.5,467.5 296.5,468.2 297.5,468.9 298.5,469.7 299.5,470.4 300.5,471.1 301.5,471.9 302.5,472.6 303.5,473.4 304.5,474.2 305.6,474.9 306.6,475.7 307.6,476.4 308.6,477.2 309.6,478.0 310.6,478.7 311.6,479.5 312.6,480.3 313.6,481.1 314.6,481.9 315.6,482.6 316.6,483.4 317.6,484.2 318.7,485.0 319.7,485.8 320.7,486.6 321.7,487.4 322.7,488.2 323.7,489.0 324.7,489.8 325.7,490.6 326.7,491.4 327.7,492.3 328.7,493.1 329.7,493.9 330.7,494.7 331.8,495.5M331.8,495.5 332.8,496.4 333.8,497.2 334.8,498.1 335.8,498.9 336.8,499.7 337.9,500.6 338.9,501.4 339.9,502.3 340.9,503.1 341.9,504.0 342.9,504.8 344.0,505.7 345.0,506.6 346.0,507.4 347.0,508.3 348.0,509.1 349.0,510.0 350.1,510.9 351.1,511.8" stroke="#00ffff" stroke-width="1.55" stroke-dasharray="15 4.7 2.5 5"/>
<path d="M88.0,377.2 89.0,377.3 90.0,377.4 91.0,377.5 92.0,377.6 93.0,377.7 94.0,377.7 95.0,377.8 96.0,377.9 97.0,378.0 98.0,378.1 99.0,378.2 100.0,378.3 101.0,378.4 102.1,378.6 103.1,378.7 104.1,378.8 105.1,378.9 106.1,379.0 107.1,379.1 108.1,379.3 109.1,379.4 110.1,379.5 111.1,379.6 112.1,379.8 113.1,379.9 114.1,380.1 115.2,380.2 116.2,380.3 117.2,380.5 118.2,380.6 119.2,380.8 120.2,381.0 121.2,381.1 122.2,381.3 123.2,381.5 124.2,381.6 125.2,381.8 126.2,382.0 127.2,382.2 128.2,382.3 129.3,382.5 130.3,382.7 131.3,382.9 132.3,383.1 133.3,383.3 134.3,383.5 135.3,383.7 136.3,384.0 137.3,384.2 138.3,384.4 139.3,384.6 140.3,384.9 141.3,385.1 142.4,385.3 143.4,385.6 144.4,385.8 145.4,386.1 146.4,386.3 147.4,386.6 148.4,386.8 149.4,387.1 150.4,387.4 151.4,387.7 152.4,387.9 153.4,388.2 154.4,388.5 155.4,388.8 156.5,389.1 157.5,389.4 158.5,389.7 159.5,390.0 160.5,390.3 161.5,390.7 162.5,391.0 163.5,391.3 164.5,391.7 165.5,392.0 166.5,392.3 167.5,392.7 168.5,393.0 169.6,393.4 170.6,393.8 171.6,394.1 172.6,394.5 173.6,394.9 174.6,395.2 175.6,395.6 176.6,396.0 177.6,396.4 178.6,396.8 179.6,397.2 180.6,397.6 181.6,398.0 182.6,398.4 183.7,398.8 184.7,399.2 185.7,399.7 186.7,400.1 187.7,400.5 188.7,400.9 189.7,401.4 190.7,401.8 191.7,402.3 192.7,402.7 193.7,403.2 194.7,403.6 195.7,404.1 196.8,404.5 197.8,405.0 198.8,405.4 199.8,405.9 200.8,406.4 201.8,406.8 202.8,407.3 203.8,407.8 204.8,408.3 205.8,408.7 206.8,409.2 207.8,409.7 208.8,410.2 209.9,410.7M209.9,410.7 210.9,411.2 211.9,411.7 212.9,412.1 213.9,412.6 214.9,413.1 215.9,413.6 216.9,414.1 217.9,414.6 218.9,415.1 219.9,415.6 220.9,416.1 221.9,416.6 222.9,417.1 224.0,417.6 225.0,418.1 226.0,418.6 227.0,419.1 228.0,419.6 229.0,420.0 230.0,420.5 231.0,421.0 232.0,421.5 233.0,422.0 234.0,422.5 235.0,423.0 236.0,423.5 237.1,424.0 238.1,424.5 239.1,424.9 240.1,425.4 241.1,425.9 242.1,426.4 243.1,426.9 244.1,427.3 245.1,427.8 246.1,428.3 247.1,428.8 248.1,429.2 249.1,429.7 250.1,430.2 251.2,430.7 252.2,431.1 253.2,431.6 254.2,432.0 255.2,432.5 256.2,433.0 257.2,433.4 258.2,433.9 259.2,434.3 260.2,434.8 261.2,435.2 262.2,435.7 263.2,436.1 264.3,436.6 265.3,437.0 266.3,437.5 267.3,437.9 268.3,438.3 269.3,438.8 270.3,439.2 271.3,439.7 272.3,440.1 273.3,440.5 274.3,441.0 275.3,441.4 276.3,441.8 277.3,442.2 278.4,442.7 279.4,443.1 280.4,443.5 281.4,444.0 282.4,444.4 283.4,444.8 284.4,445.2 285.4,445.6 286.4,446.1 287.4,446.5 288.4,446.9 289.4,447.3 290.4,447.8 291.5,448.2 292.5,448.6 293.5,449.0 294.5,449.4 295.5,449.9 296.5,450.3 297.5,450.7 298.5,451.1 299.5,451.5 300.5,452.0 301.5,452.4 302.5,452.8 303.5,453.2 304.5,453.7 305.6,454.1 306.6,454.5 307.6,454.9 308.6,455.4 309.6,455.8 310.6,456.2 311.6,456.7 312.6,457.1 313.6,457.6 314.6,458.0 315.6,458.4 316.6,458.9 317.6,459.3 318.7,459.8 319.7,460.2 320.7,460.7 321.7,461.2 322.7,461.6 323.7,462.1 324.7,462.5 325.7,463.0 326.7,463.5 327.7,464.0 328.7,464.4 329.7,464.9 330.7,465.4 331.8,465.9M331.8,465.9 332.8,466.4 333.8,466.9 334.8,467.4 335.8,467.9 336.8,468.4 337.8,468.9 338.8,469.4 339.8,469.9 340.8,470.4 341.8,470.9 342.8,471.5 343.8,472.0 344.8,472.5 345.8,473.1 346.8,473.6 347.8,474.2 348.8,474.7 349.8,475.3 350.8,475.8 351.8,476.4 352.8,476.9 353.8,477.5 354.8,478.1 355.8,478.7 356.8,479.3 357.8,479.9 358.8,480.4 359.8,481.0 360.8,481.6 361.8,482.3 362.8,482.9 363.8,483.5 364.8,484.1 365.8,484.7 366.8,485.4 367.8,486.0 368.8,486.6 369.8,487.3 370.8,487.9 371.8,488.6 372.8,489.2 373.8,489.9 374.8,490.6 375.8,491.2 376.8,491.9 377.8,492.6 378.8,493.3 379.8,493.9 380.8,494.6" stroke="#ff0000" stroke-width="2.4" stroke-dasharray="10 5"/>
<path d="M88.0,377.5 89.0,377.6 90.0,377.7 91.0,377.7 92.0,377.8 93.0,377.9 94.0,378.0 95.0,378.1 96.0,378.2 97.0,378.3 98.0,378.4 99.0,378.5 100.0,378.6 101.0,378.7 102.1,378.8 103.1,378.9 104.1,379.1 105.1,379.2 106.1,379.3 107.1,379.4 108.1,379.5 109.1,379.7 110.1,379.8 111.1,379.9 112.1,380.1 113.1,380.2 114.1,380.4 115.2,380.5 116.2,380.6 117.2,380.8 118.2,381.0 119.2,381.1 120.2,381.3 121.2,381.4 122.2,381.6 123.2,381.8 124.2,381.9 125.2,382.1 126.2,382.3 127.2,382.5 128.2,382.7 129.3,382.9 130.3,383.1 131.3,383.3 132.3,383.5 133.3,383.7 134.3,383.9 135.3,384.1 136.3,384.3 137.3,384.5 138.3,384.8 139.3,385.0 140.3,385.2 141.3,385.5 142.4,385.7 143.4,386.0 144.4,386.2 145.4,386.5 146.4,386.7 147.4,387.0 148.4,387.3 149.4,387.5 150.4,387.8 151.4,388.1 152.4,388.4 153.4,388.7 154.4,389.0 155.4,389.3 156.5,389.6 157.5,389.9 158.5,390.2 159.5,390.5 160.5,390.9 161.5,391.2 162.5,391.5 163.5,391.9 164.5,392.2 165.5,392.5 166.5,392.9 167.5,393.3 168.5,393.6 169.6,394.0 170.6,394.4 171.6,394.7 172.6,395.1 173.6,395.5 174.6,395.9 175.6,396.3 176.6,396.7 177.6,397.1 178.6,397.5 179.6,397.9 180.6,398.3 181.6,398.7 182.6,399.2 183.7,399.6 184.7,400.0 185.7,400.5 186.7,400.9 187.7,401.4 188.7,401.8 189.7,402.3 190.7,402.7 191.7,403.2 192.7,403.7 193.7,404.1 194.7,404.6 195.7,405.1 196.8,405.6 197.8,406.1 198.8,406.5 199.8,407.0 200.8,407.5 201.8,408.0 202.8,408.5 203.8,409.0 204.8,409.5 205.8,410.1 206.8,410.6 207.8,411.1 208.8,411.6 209.9,412.1M209.9,412.1 210.9,412.6 211.9,413.2 212.9,413.7 213.9,414.2 214.9,414.8 215.9,415.3 216.9,415.8 217.9,416.4 218.9,416.9 219.9,417.4 220.9,418.0 221.9,418.5 222.9,419.1 224.0,419.6 225.0,420.1 226.0,420.7 227.0,421.2 228.0,421.8 229.0,422.3 230.0,422.9 231.0,423.4 232.0,424.0 233.0,424.5 234.0,425.1 235.0,425.6 236.0,426.2 237.1,426.7 238.1,427.3 239.1,427.8 240.1,428.4 241.1,429.0 242.1,429.5 243.1,430.1 244.1,430.6 245.1,431.2 246.1,431.7 247.1,432.3 248.1,432.8 249.1,433.3 250.1,433.9 251.2,434.4 252.2,435.0 253.2,435.5 254.2,436.1 255.2,436.6 256.2,437.2 257.2,437.7 258.2,438.2 259.2,438.8 260.2,439.3 261.2,439.9 262.2,440.4 263.2,440.9 264.3,441.5 265.3,442.0 266.3,442.5 267.3,443.1 268.3,443.6 269.3,444.1 270.3,444.7 271.3,445.2 272.3,445.7 273.3,446.2 274.3,446.8 275.3,447.3 276.3,447.8 277.3,448.3 278.4,448.8 279.4,449.4 280.4,449.9 281.4,450.4 282.4,450.9 283.4,451.4 284.4,451.9 285.4,452.4 286.4,452.9 287.4,453.4 288.4,453.9 289.4,454.4 290.4,454.9 291.5,455.4 292.5,455.9 293.5,456.4 294.5,456.9 295.5,457.4 296.5,457.9 297.5,458.4 298.5,458.9 299.5,459.4 300.5,459.8 301.5,460.3 302.5,460.8 303.5,461.3 304.5,461.8 305.6,462.2 306.6,462.7 307.6,463.2 308.6,463.7 309.6,464.1 310.6,464.6 311.6,465.1 312.6,465.6 313.6,466.0 314.6,466.5 315.6,467.0 316.6,467.4 317.6,467.9 318.7,468.4 319.7,468.8 320.7,469.3 321.7,469.8 322.7,470.2 323.7,470.7 324.7,471.1 325.7,471.6 326.7,472.1 327.7,472.5 328.7,473.0 329.7,473.5 330.7,473.9 331.8,474.4M331.8,474.4 332.8,474.9 333.8,475.3 334.8,475.8 335.8,476.3 336.8,476.8 337.8,477.2 338.8,477.7 339.8,478.2 340.8,478.6 341.8,479.1 342.8,479.6 343.8,480.1 344.8,480.6 345.8,481.1 346.8,481.5 347.8,482.0 348.8,482.5 349.8,483.0 350.8,483.5 351.8,484.0 352.8,484.5 353.8,485.0 354.8,485.6 355.8,486.1 356.8,486.6 357.8,487.1 358.8,487.6 359.8,488.2 360.8,488.7 361.8,489.2 362.8,489.8 363.8,490.3 364.8,490.8 365.8,491.4 366.8,491.9 367.8,492.5 368.8,493.1 369.8,493.6 370.8,494.2 371.8,494.8 372.8,495.3 373.8,495.9 374.8,496.5 375.8,497.1 376.8,497.7 377.8,498.3 378.8,498.9 379.8,499.5 380.8,500.1" stroke="#0000ff" stroke-width="2.4" stroke-dasharray="10 5"/>
<path d="M88.0,449.4 89.0,449.4 90.0,449.4 91.0,449.4 92.0,449.4 93.0,449.4 94.0,449.4 95.0,449.4 96.0,449.4 97.0,449.4 98.0,449.4 99.0,449.4 100.0,449.4 101.0,449.4 102.1,449.4 103.1,449.4 104.1,449.5 105.1,449.5 106.1,449.5 107.1,449.5 108.1,449.5 109.1,449.5 110.1,449.5 111.1,449.5 112.1,449.5 113.1,449.5 114.1,449.5 115.2,449.5 116.2,449.5 117.2,449.5 118.2,449.5 119.2,449.5 120.2,449.5 121.2,449.5 122.2,449.5 123.2,449.5 124.2,449.5 125.2,449.5 126.2,449.5 127.2,449.5 128.2,449.5 129.3,449.5 130.3,449.5 131.3,449.5 132.3,449.6 133.3,449.6 134.3,449.6 135.3,449.6 136.3,449.6 137.3,449.6 138.3,449.6 139.3,449.6 140.3,449.6 141.3,449.6 142.4,449.6 143.4,449.6 144.4,449.6 145.4,449.6 146.4,449.6 147.4,449.6 148.4,449.6 149.4,449.7 150.4,449.7 151.4,449.7 152.4,449.7 153.4,449.7 154.4,449.7 155.4,449.7 156.5,449.7 157.5,449.7 158.5,449.7 159.5,449.7 160.5,449.8 161.5,449.8 162.5,449.8 163.5,449.8 164.5,449.8 165.5,449.8 166.5,449.8 167.5,449.8 168.5,449.8 169.6,449.8 170.6,449.9 171.6,449.9 172.6,449.9 173.6,449.9 174.6,449.9 175.6,449.9 176.6,449.9 177.6,450.0 178.6,450.0 179.6,450.0 180.6,450.0 181.6,450.0 182.6,450.0 183.7,450.1 184.7,450.1 185.7,450.1 186.7,450.1 187.7,450.1 188.7,450.1 189.7,450.2 190.7,450.2 191.7,450.2 192.7,450.2 193.7,450.3 194.7,450.3 195.7,450.3 196.8,450.3 197.8,450.3 198.8,450.4 199.8,450.4 200.8,450.4 201.8,450.5 202.8,450.5 203.8,450.5 204.8,450.5 205.8,450.6 206.8,450.6 207.8,450.6 208.8,450.7 209.9,450.7M209.9,450.7 210.9,450.7 211.9,450.8 212.9,450.8 213.9,450.8 214.9,450.9 215.9,450.9 216.9,450.9 217.9,451.0 218.9,451.0 219.9,451.1 220.9,451.1 221.9,451.1 222.9,451.2 224.0,451.2 225.0,451.3 226.0,451.3 227.0,451.4 228.0,451.4 229.0,451.5 230.0,451.5 231.0,451.6 232.0,451.6 233.0,451.7 234.0,451.8 235.0,451.8 236.0,451.9 237.1,451.9 238.1,452.0 239.1,452.1 240.1,452.1 241.1,452.2 242.1,452.3 243.1,452.3 244.1,452.4 245.1,452.5 246.1,452.6 247.1,452.6 248.1,452.7 249.1,452.8 250.1,452.9 251.2,453.0 252.2,453.1 253.2,453.1 254.2,453.2 255.2,453.3 256.2,453.4 257.2,453.5 258.2,453.6 259.2,453.7 260.2,453.8 261.2,453.9 262.2,454.0 263.2,454.1 264.3,454.3 265.3,454.4 266.3,454.5 267.3,454.6 268.3,454.7 269.3,454.9 270.3,455.0 271.3,455.1 272.3,455.3 273.3,455.4 274.3,455.5 275.3,455.7 276.3,455.8 277.3,456.0 278.4,456.1 279.4,456.3 280.4,456.5 281.4,456.6 282.4,456.8 283.4,457.0 284.4,457.1 285.4,457.3 286.4,457.5 287.4,457.7 288.4,457.9 289.4,458.1 290.4,458.3 291.5,458.5 292.5,458.7 293.5,458.9 294.5,459.1 295.5,459.3 296.5,459.5 297.5,459.7 298.5,460.0 299.5,460.2 300.5,460.4 301.5,460.7 302.5,460.9 303.5,461.2 304.5,461.4 305.6,461.7 306.6,462.0 307.6,462.2 308.6,462.5 309.6,462.8 310.6,463.1 311.6,463.4 312.6,463.7 313.6,464.0 314.6,464.3 315.6,464.6 316.6,464.9 317.6,465.2 318.7,465.5 319.7,465.9 320.7,466.2 321.7,466.6 322.7,466.9 323.7,467.3 324.7,467.6 325.7,468.0 326.7,468.4 327.7,468.7 328.7,469.1 329.7,469.5 330.7,469.9 331.8,470.3M331.8,470.3 332.8,470.7 333.8,471.1 334.8,471.5 335.8,471.9 336.8,472.4 337.8,472.8 338.8,473.2 339.8,473.7 340.8,474.1 341.8,474.6 342.8,475.0 343.8,475.5 344.8,476.0 345.8,476.4 346.8,476.9 347.8,477.4 348.8,477.9 349.8,478.4 350.8,478.9 351.8,479.4 352.8,479.9 353.8,480.5 354.8,481.0 355.8,481.5 356.8,482.1 357.8,482.6 358.8,483.2 359.8,483.7 360.8,484.3 361.8,484.9 362.8,485.4 363.8,486.0 364.8,486.6 365.8,487.2 366.8,487.8 367.8,488.4 368.8,489.0 369.8,489.6 370.8,490.2 371.8,490.8 372.8,491.5 373.8,492.1 374.8,492.7 375.8,493.4 376.8,494.0 377.8,494.7 378.8,495.3 379.8,496.0 380.8,496.7" stroke="#ff0000" stroke-width="0.68" stroke-dasharray="10.5 4.5"/>
<path d="M88.0,467.7 89.0,467.7 90.0,467.7 91.0,467.7 92.0,467.7 93.0,467.7 94.0,467.7 95.0,467.7 96.0,467.7 97.0,467.7 98.0,467.7 99.0,467.7 100.0,467.7 101.0,467.7 102.1,467.7 103.1,467.7 104.1,467.7 105.1,467.7 106.1,467.7 107.1,467.7 108.1,467.8 109.1,467.8 110.1,467.8 111.1,467.8 112.1,467.8 113.1,467.8 114.1,467.8 115.2,467.8 116.2,467.8 117.2,467.8 118.2,467.8 119.2,467.8 120.2,467.8 121.2,467.8 122.2,467.8 123.2,467.8 124.2,467.8 125.2,467.8 126.2,467.8 127.2,467.8 128.2,467.8 129.3,467.8 130.3,467.8 131.3,467.8 132.3,467.8 133.3,467.8 134.3,467.8 135.3,467.8 136.3,467.8 137.3,467.8 138.3,467.8 139.3,467.8 140.3,467.8 141.3,467.8 142.4,467.8 143.4,467.8 144.4,467.8 145.4,467.9 146.4,467.9 147.4,467.9 148.4,467.9 149.4,467.9 150.4,467.9 151.4,467.9 152.4,467.9 153.4,467.9 154.4,467.9 155.4,467.9 156.5,467.9 157.5,467.9 158.5,467.9 159.5,467.9 160.5,467.9 161.5,467.9 162.5,467.9 163.5,467.9 164.5,468.0 165.5,468.0 166.5,468.0 167.5,468.0 168.5,468.0 169.6,468.0 170.6,468.0 171.6,468.0 172.6,468.0 173.6,468.0 174.6,468.0 175.6,468.0 176.6,468.0 177.6,468.1 178.6,468.1 179.6,468.1 180.6,468.1 181.6,468.1 182.6,468.1 183.7,468.1 184.7,468.1 185.7,468.1 186.7,468.2 187.7,468.2 188.7,468.2 189.7,468.2 190.7,468.2 191.7,468.2 192.7,468.2 193.7,468.2 194.7,468.3 195.7,468.3 196.8,468.3 197.8,468.3 198.8,468.3 199.8,468.3 200.8,468.3 201.8,468.4 202.8,468.4 203.8,468.4 204.8,468.4 205.8,468.4 206.8,468.5 207.8,468.5 208.8,468.5 209.9,468.5M209.9,468.5 210.9,468.5 211.9,468.6 212.9,468.6 213.9,468.6 214.9,468.6 215.9,468.6 216.9,468.7 217.9,468.7 218.9,468.7 219.9,468.7 220.9,468.8 221.9,468.8 222.9,468.8 224.0,468.9 225.0,468.9 226.0,468.9 227.0,468.9 228.0,469.0 229.0,469.0 230.0,469.0 231.0,469.1 232.0,469.1 233.0,469.1 234.0,469.2 235.0,469.2 236.0,469.3 237.1,469.3 238.1,469.3 239.1,469.4 240.1,469.4 241.1,469.5 242.1,469.5 243.1,469.5 244.1,469.6 245.1,469.6 246.1,469.7 247.1,469.7 248.1,469.8 249.1,469.8 250.1,469.9 251.2,469.9 252.2,470.0 253.2,470.1 254.2,470.1 255.2,470.2 256.2,470.2 257.2,470.3 258.2,470.4 259.2,470.4 260.2,470.5 261.2,470.6 262.2,470.6 263.2,470.7 264.3,470.8 265.3,470.9 266.3,470.9 267.3,471.0 268.3,471.1 269.3,471.2 270.3,471.3 271.3,471.3 272.3,471.4 273.3,471.5 274.3,471.6 275.3,471.7 276.3,471.8 277.3,471.9 278.4,472.0 279.4,472.1 280.4,472.2 281.4,472.3 282.4,472.4 283.4,472.5 284.4,472.7 285.4,472.8 286.4,472.9 287.4,473.0 288.4,473.1 289.4,473.3 290.4,473.4 291.5,473.5 292.5,473.7 293.5,473.8 294.5,474.0 295.5,474.1 296.5,474.3 297.5,474.4 298.5,474.6 299.5,474.7 300.5,474.9 301.5,475.1 302.5,475.2 303.5,475.4 304.5,475.6 305.6,475.8 306.6,475.9 307.6,476.1 308.6,476.3 309.6,476.5 310.6,476.7 311.6,476.9 312.6,477.1 313.6,477.3 314.6,477.5 315.6,477.8 316.6,478.0 317.6,478.2 318.7,478.4 319.7,478.7 320.7,478.9 321.7,479.2 322.7,479.4 323.7,479.7 324.7,479.9 325.7,480.2 326.7,480.5 327.7,480.7 328.7,481.0 329.7,481.3 330.7,481.6 331.8,481.9M331.8,481.9 332.8,482.2 333.8,482.5 334.8,482.8 335.8,483.1 336.8,483.4 337.8,483.7 338.8,484.1 339.8,484.4 340.8,484.7 341.8,485.1 342.8,485.4 343.8,485.8 344.8,486.1 345.8,486.5 346.8,486.9 347.8,487.2 348.8,487.6 349.8,488.0 350.8,488.4 351.8,488.8 352.8,489.2 353.8,489.6 354.8,490.0 355.8,490.4 356.8,490.9 357.8,491.3 358.8,491.7 359.8,492.2 360.8,492.6 361.8,493.1 362.8,493.6 363.8,494.0 364.8,494.5 365.8,495.0 366.8,495.5 367.8,496.0 368.8,496.5 369.8,497.0 370.8,497.5 371.8,498.0 372.8,498.5 373.8,499.0 374.8,499.6 375.8,500.1 376.8,500.6 377.8,501.2 378.8,501.7 379.8,502.3 380.8,502.9" stroke="#0000ff" stroke-width="0.68" stroke-dasharray="10.5 4.5"/>
</g>
<g clip-path="url(#c3)" fill="none">
<path d="M88.0,581.3 89.0,581.2 90.0,581.1 91.0,580.9 92.0,580.8 93.0,580.7 94.0,580.5 95.0,580.4 96.0,580.2 97.0,580.1 98.0,579.9 99.0,579.8 100.0,579.6 101.0,579.5 102.1,579.3 103.1,579.2 104.1,579.0 105.1,578.8 106.1,578.6 107.1,578.5 108.1,578.3 109.1,578.1 110.1,577.9 111.1,577.7 112.1,577.5 113.1,577.3 114.1,577.1 115.2,576.9 116.2,576.7 117.2,576.5 118.2,576.3 119.2,576.1 120.2,575.8 121.2,575.6 122.2,575.4 123.2,575.2 124.2,574.9 125.2,574.7 126.2,574.4 127.2,574.2 128.2,573.9 129.3,573.7 130.3,573.4 131.3,573.2 132.3,572.9 133.3,572.6 134.3,572.3 135.3,572.1 136.3,571.8 137.3,571.5 138.3,571.2 139.3,570.9 140.3,570.6 141.3,570.3 142.4,570.0 143.4,569.7 144.4,569.4 145.4,569.1 146.4,568.8 147.4,568.4 148.4,568.1 149.4,567.8 150.4,567.5 151.4,567.1 152.4,566.8 153.4,566.4 154.4,566.1 155.4,565.8 156.5,565.4 157.5,565.0 158.5,564.7 159.5,564.3 160.5,564.0 161.5,563.6 162.5,563.2 163.5,562.9 164.5,562.5 165.5,562.1 166.5,561.7 167.5,561.4 168.5,561.0 169.6,560.6 170.6,560.2 171.6,559.8 172.6,559.4 173.6,559.0 174.6,558.6 175.6,558.3 176.6,557.9 177.6,557.5 178.6,557.1 179.6,556.7 180.6,556.3 181.6,555.9 182.6,555.5 183.7,555.1 184.7,554.7 185.7,554.2 186.7,553.8 187.7,553.4 188.7,553.0 189.7,552.6 190.7,552.2 191.7,551.8 192.7,551.4 193.7,551.0 194.7,550.6 195.7,550.2 196.8,549.8 197.8,549.4 198.8,549.0 199.8,548.6 200.8,548.2 201.8,547.8 202.8,547.4 203.8,547.0 204.8,546.6 205.8,546.2 206.8,545.8 207.8,545.4 208.8,545.0 209.9,544.7M209.9,544.7 210.9,544.3 211.9,543.9 212.9,543.5 213.9,543.1 214.9,542.7 215.9,542.4 216.9,542.0 217.9,541.6 218.9,541.2 219.9,540.9 220.9,540.5 221.9,540.1 222.9,539.8 224.0,539.4 225.0,539.0 226.0,538.7 227.0,538.3 228.0,538.0 229.0,537.6 230.0,537.3 231.0,536.9 232.0,536.6 233.0,536.2 234.0,535.9 235.0,535.6 236.0,535.2 237.1,534.9 238.1,534.6 239.1,534.2 240.1,533.9 241.1,533.6 242.1,533.3 243.1,533.0 244.1,532.6 245.1,532.3 246.1,532.0 247.1,531.7 248.1,531.4 249.1,531.1 250.1,530.8 251.2,530.5 252.2,530.2 253.2,529.9 254.2,529.6 255.2,529.3 256.2,529.1 257.2,528.8 258.2,528.5 259.2,528.2 260.2,528.0 261.2,527.7 262.2,527.4 263.2,527.1 264.3,526.9 265.3,526.6 266.3,526.4 267.3,526.1 268.3,525.9 269.3,525.6 270.3,525.4 271.3,525.1 272.3,524.9 273.3,524.6 274.3,524.4 275.3,524.2 276.3,523.9 277.3,523.7 278.4,523.5 279.4,523.2 280.4,523.0 281.4,522.8 282.4,522.6 283.4,522.4 284.4,522.2 285.4,521.9 286.4,521.7 287.4,521.5 288.4,521.3 289.4,521.1 290.4,520.9 291.5,520.7 292.5,520.6 293.5,520.4 294.5,520.2 295.5,520.0 296.5,519.8 297.5,519.6 298.5,519.5 299.5,519.3 300.5,519.1 301.5,518.9 302.5,518.8 303.5,518.6 304.5,518.5 305.6,518.3 306.6,518.1 307.6,518.0 308.6,517.8 309.6,517.7 310.6,517.5 311.6,517.4 312.6,517.3 313.6,517.1 314.6,517.0 315.6,516.8 316.6,516.7 317.6,516.6 318.7,516.4 319.7,516.3 320.7,516.2 321.7,516.1 322.7,516.0 323.7,515.8 324.7,515.7 325.7,515.6 326.7,515.5 327.7,515.4 328.7,515.3 329.7,515.2 330.7,515.1 331.8,515.0M331.8,515.0 332.8,514.9 333.8,514.8 334.8,514.7 335.8,514.6 336.8,514.5 337.8,514.4 338.8,514.3 339.8,514.2 340.8,514.1 341.8,514.0 342.8,514.0 343.8,513.9 344.8,513.8 345.8,513.7 346.8,513.6 347.8,513.6 348.8,513.5 349.8,513.4 350.8,513.4 351.8,513.3 352.8,513.2 353.8,513.2 354.8,513.1 355.8,513.0 356.8,513.0 357.8,512.9 358.8,512.9 359.8,512.8 360.8,512.7 361.8,512.7 362.8,512.6 363.8,512.6 364.8,512.5 365.8,512.5 366.8,512.4 367.8,512.4 368.8,512.3 369.8,512.3 370.8,512.2 371.8,512.2 372.8,512.1 373.8,512.1 374.8,512.1 375.8,512.0 376.8,512.0 377.8,511.9 378.8,511.9 379.8,511.9 380.8,511.8" stroke="#00ffff" stroke-width="1.55" stroke-dasharray="15 4.7 2.5 5"/>
<path d="M88.0,644.3 89.0,644.2 90.0,644.1 91.0,643.9 92.0,643.8 93.0,643.7 94.0,643.5 95.0,643.4 96.0,643.2 97.0,643.1 98.0,642.9 99.0,642.8 100.0,642.6 101.0,642.5 102.1,642.3 103.1,642.1 104.1,641.9 105.1,641.8 106.1,641.6 107.1,641.4 108.1,641.2 109.1,641.0 110.1,640.8 111.1,640.7 112.1,640.5 113.1,640.3 114.1,640.0 115.2,639.8 116.2,639.6 117.2,639.4 118.2,639.2 119.2,639.0 120.2,638.7 121.2,638.5 122.2,638.3 123.2,638.0 124.2,637.8 125.2,637.5 126.2,637.3 127.2,637.0 128.2,636.8 129.3,636.5 130.3,636.2 131.3,636.0 132.3,635.7 133.3,635.4 134.3,635.1 135.3,634.8 136.3,634.6 137.3,634.3 138.3,634.0 139.3,633.7 140.3,633.4 141.3,633.0 142.4,632.7 143.4,632.4 144.4,632.1 145.4,631.8 146.4,631.4 147.4,631.1 148.4,630.8 149.4,630.4 150.4,630.1 151.4,629.7 152.4,629.4 153.4,629.0 154.4,628.7 155.4,628.3 156.5,627.9 157.5,627.6 158.5,627.2 159.5,626.8 160.5,626.4 161.5,626.1 162.5,625.7 163.5,625.3 164.5,624.9 165.5,624.5 166.5,624.1 167.5,623.7 168.5,623.3 169.6,622.9 170.6,622.5 171.6,622.1 172.6,621.7 173.6,621.3 174.6,620.8 175.6,620.4 176.6,620.0 177.6,619.6 178.6,619.2 179.6,618.7 180.6,618.3 181.6,617.9 182.6,617.5 183.7,617.0 184.7,616.6 185.7,616.2 186.7,615.7 187.7,615.3 188.7,614.8 189.7,614.4 190.7,614.0 191.7,613.5 192.7,613.1 193.7,612.7 194.7,612.2 195.7,611.8 196.8,611.3 197.8,610.9 198.8,610.4 199.8,610.0 200.8,609.6 201.8,609.1 202.8,608.7 203.8,608.2 204.8,607.8 205.8,607.4 206.8,606.9 207.8,606.5 208.8,606.0 209.9,605.6M209.9,605.6 210.9,605.1 211.9,604.7 212.9,604.3 213.9,603.8 214.9,603.4 215.9,602.9 216.9,602.5 217.9,602.1 218.9,601.6 219.9,601.2 220.9,600.8 221.9,600.3 222.9,599.9 224.0,599.5 225.0,599.0 226.0,598.6 227.0,598.2 228.0,597.7 229.0,597.3 230.0,596.9 231.0,596.4 232.0,596.0 233.0,595.6 234.0,595.1 235.0,594.7 236.0,594.3 237.1,593.9 238.1,593.4 239.1,593.0 240.1,592.6 241.1,592.1 242.1,591.7 243.1,591.3 244.1,590.9 245.1,590.4 246.1,590.0 247.1,589.6 248.1,589.2 249.1,588.7 250.1,588.3 251.2,587.9 252.2,587.5 253.2,587.0 254.2,586.6 255.2,586.2 256.2,585.7 257.2,585.3 258.2,584.9 259.2,584.5 260.2,584.0 261.2,583.6 262.2,583.2 263.2,582.7 264.3,582.3 265.3,581.9 266.3,581.5 267.3,581.0 268.3,580.6 269.3,580.1 270.3,579.7 271.3,579.3 272.3,578.8 273.3,578.4 274.3,578.0 275.3,577.5 276.3,577.1 277.3,576.6 278.4,576.2 279.4,575.8 280.4,575.3 281.4,574.9 282.4,574.4 283.4,574.0 284.4,573.5 285.4,573.1 286.4,572.6 287.4,572.2 288.4,571.7 289.4,571.3 290.4,570.8 291.5,570.3 292.5,569.9 293.5,569.4 294.5,569.0 295.5,568.5 296.5,568.0 297.5,567.6 298.5,567.1 299.5,566.6 300.5,566.2 301.5,565.7 302.5,565.2 303.5,564.8 304.5,564.3 305.6,563.8 306.6,563.3 307.6,562.9 308.6,562.4 309.6,561.9 310.6,561.4 311.6,560.9 312.6,560.5 313.6,560.0 314.6,559.5 315.6,559.0 316.6,558.5 317.6,558.0 318.7,557.6 319.7,557.1 320.7,556.6 321.7,556.1 322.7,555.6 323.7,555.1 324.7,554.6 325.7,554.1 326.7,553.7 327.7,553.2 328.7,552.7 329.7,552.2 330.7,551.7 331.8,551.2M331.8,551.2 332.8,550.7 333.8,550.2 334.8,549.8 335.8,549.3 336.8,548.8 337.8,548.3 338.8,547.8 339.8,547.4 340.8,546.9 341.8,546.4 342.8,545.9 343.8,545.5 344.8,545.0 345.8,544.5 346.8,544.1 347.8,543.6 348.8,543.1 349.8,542.7 350.8,542.2 351.8,541.8 352.8,541.3 353.8,540.9 354.8,540.4 355.8,540.0 356.8,539.5 357.8,539.1 358.8,538.6 359.8,538.2 360.8,537.8 361.8,537.3 362.8,536.9 363.8,536.5 364.8,536.1 365.8,535.7 366.8,535.2 367.8,534.8 368.8,534.4 369.8,534.0 370.8,533.6 371.8,533.2 372.8,532.8 373.8,532.5 374.8,532.1 375.8,531.7 376.8,531.3 377.8,530.9 378.8,530.6 379.8,530.2 380.8,529.9" stroke="#ff0000" stroke-width="2.4" stroke-dasharray="10 5"/>
<path d="M88.0,620.1 89.0,620.0 90.0,619.9 91.0,619.7 92.0,619.6 93.0,619.5 94.0,619.3 95.0,619.2 96.0,619.0 97.0,618.9 98.0,618.7 99.0,618.6 100.0,618.4 101.0,618.3 102.1,618.1 103.1,617.9 104.1,617.8 105.1,617.6 106.1,617.4 107.1,617.2 108.1,617.1 109.1,616.9 110.1,616.7 111.1,616.5 112.1,616.3 113.1,616.1 114.1,615.9 115.2,615.7 116.2,615.5 117.2,615.3 118.2,615.1 119.2,614.8 120.2,614.6 121.2,614.4 122.2,614.1 123.2,613.9 124.2,613.7 125.2,613.4 126.2,613.2 127.2,612.9 128.2,612.7 129.3,612.4 130.3,612.2 131.3,611.9 132.3,611.6 133.3,611.3 134.3,611.1 135.3,610.8 136.3,610.5 137.3,610.2 138.3,609.9 139.3,609.6 140.3,609.3 141.3,609.0 142.4,608.7 143.4,608.4 144.4,608.1 145.4,607.8 146.4,607.4 147.4,607.1 148.4,606.8 149.4,606.4 150.4,606.1 151.4,605.8 152.4,605.4 153.4,605.1 154.4,604.7 155.4,604.4 156.5,604.0 157.5,603.7 158.5,603.3 159.5,602.9 160.5,602.6 161.5,602.2 162.5,601.8 163.5,601.4 164.5,601.1 165.5,600.7 166.5,600.3 167.5,599.9 168.5,599.5 169.6,599.1 170.6,598.7 171.6,598.3 172.6,597.9 173.6,597.5 174.6,597.1 175.6,596.7 176.6,596.3 177.6,595.9 178.6,595.5 179.6,595.1 180.6,594.7 181.6,594.3 182.6,593.9 183.7,593.5 184.7,593.0 185.7,592.6 186.7,592.2 187.7,591.8 188.7,591.4 189.7,591.0 190.7,590.5 191.7,590.1 192.7,589.7 193.7,589.3 194.7,588.9 195.7,588.5 196.8,588.0 197.8,587.6 198.8,587.2 199.8,586.8 200.8,586.4 201.8,586.0 202.8,585.5 203.8,585.1 204.8,584.7 205.8,584.3 206.8,583.9 207.8,583.5 208.8,583.1 209.9,582.7M209.9,582.7 210.9,582.3 211.9,581.8 212.9,581.4 213.9,581.0 214.9,580.6 215.9,580.2 216.9,579.8 217.9,579.4 218.9,579.0 219.9,578.6 220.9,578.2 221.9,577.8 222.9,577.5 224.0,577.1 225.0,576.7 226.0,576.3 227.0,575.9 228.0,575.5 229.0,575.1 230.0,574.8 231.0,574.4 232.0,574.0 233.0,573.6 234.0,573.2 235.0,572.9 236.0,572.5 237.1,572.1 238.1,571.8 239.1,571.4 240.1,571.0 241.1,570.7 242.1,570.3 243.1,569.9 244.1,569.6 245.1,569.2 246.1,568.9 247.1,568.5 248.1,568.2 249.1,567.8 250.1,567.4 251.2,567.1 252.2,566.8 253.2,566.4 254.2,566.1 255.2,565.7 256.2,565.4 257.2,565.0 258.2,564.7 259.2,564.4 260.2,564.0 261.2,563.7 262.2,563.3 263.2,563.0 264.3,562.7 265.3,562.3 266.3,562.0 267.3,561.7 268.3,561.4 269.3,561.0 270.3,560.7 271.3,560.4 272.3,560.0 273.3,559.7 274.3,559.4 275.3,559.1 276.3,558.8 277.3,558.4 278.4,558.1 279.4,557.8 280.4,557.5 281.4,557.2 282.4,556.8 283.4,556.5 284.4,556.2 285.4,555.9 286.4,555.6 287.4,555.3 288.4,555.0 289.4,554.6 290.4,554.3 291.5,554.0 292.5,553.7 293.5,553.4 294.5,553.1 295.5,552.8 296.5,552.5 297.5,552.1 298.5,551.8 299.5,551.5 300.5,551.2 301.5,550.9 302.5,550.6 303.5,550.3 304.5,550.0 305.6,549.7 306.6,549.4 307.6,549.1 308.6,548.7 309.6,548.4 310.6,548.1 311.6,547.8 312.6,547.5 313.6,547.2 314.6,546.9 315.6,546.6 316.6,546.3 317.6,546.0 318.7,545.7 319.7,545.4 320.7,545.0 321.7,544.7 322.7,544.4 323.7,544.1 324.7,543.8 325.7,543.5 326.7,543.2 327.7,542.9 328.7,542.6 329.7,542.3 330.7,541.9 331.8,541.6M331.8,541.6 332.8,541.3 333.8,541.0 334.8,540.7 335.8,540.4 336.8,540.1 337.8,539.8 338.8,539.5 339.8,539.2 340.8,538.9 341.8,538.6 342.8,538.3 343.8,537.9 344.8,537.6 345.8,537.3 346.8,537.0 347.8,536.7 348.8,536.4 349.8,536.1 350.8,535.8 351.8,535.5 352.8,535.2 353.8,534.9 354.8,534.6 355.8,534.3 356.8,534.0 357.8,533.7 358.8,533.4 359.8,533.1 360.8,532.8 361.8,532.5 362.8,532.2 363.8,531.9 364.8,531.6 365.8,531.3 366.8,531.0 367.8,530.7 368.8,530.5 369.8,530.2 370.8,529.9 371.8,529.6 372.8,529.3 373.8,529.0 374.8,528.8 375.8,528.5 376.8,528.2 377.8,527.9 378.8,527.7 379.8,527.4 380.8,527.1" stroke="#0000ff" stroke-width="2.4" stroke-dasharray="10 5"/>
<path d="M88.0,573.3 89.0,573.3 90.0,573.3 91.0,573.3 92.0,573.3 93.0,573.3 94.0,573.3 95.0,573.3 96.0,573.3 97.0,573.3 98.0,573.3 99.0,573.3 100.0,573.3 101.0,573.3 102.1,573.3 103.1,573.3 104.1,573.3 105.1,573.3 106.1,573.3 107.1,573.3 108.1,573.2 109.1,573.2 110.1,573.2 111.1,573.2 112.1,573.2 113.1,573.2 114.1,573.2 115.2,573.2 116.2,573.2 117.2,573.2 118.2,573.2 119.2,573.2 120.2,573.2 121.2,573.2 122.2,573.2 123.2,573.2 124.2,573.2 125.2,573.2 126.2,573.1 127.2,573.1 128.2,573.1 129.3,573.1 130.3,573.1 131.3,573.1 132.3,573.1 133.3,573.1 134.3,573.1 135.3,573.1 136.3,573.1 137.3,573.1 138.3,573.0 139.3,573.0 140.3,573.0 141.3,573.0 142.4,573.0 143.4,573.0 144.4,573.0 145.4,573.0 146.4,573.0 147.4,573.0 148.4,572.9 149.4,572.9 150.4,572.9 151.4,572.9 152.4,572.9 153.4,572.9 154.4,572.9 155.4,572.8 156.5,572.8 157.5,572.8 158.5,572.8 159.5,572.8 160.5,572.8 161.5,572.8 162.5,572.7 163.5,572.7 164.5,572.7 165.5,572.7 166.5,572.7 167.5,572.6 168.5,572.6 169.6,572.6 170.6,572.6 171.6,572.6 172.6,572.5 173.6,572.5 174.6,572.5 175.6,572.5 176.6,572.4 177.6,572.4 178.6,572.4 179.6,572.4 180.6,572.3 181.6,572.3 182.6,572.3 183.7,572.3 184.7,572.2 185.7,572.2 186.7,572.2 187.7,572.1 188.7,572.1 189.7,572.1 190.7,572.0 191.7,572.0 192.7,572.0 193.7,571.9 194.7,571.9 195.7,571.9 196.8,571.8 197.8,571.8 198.8,571.7 199.8,571.7 200.8,571.7 201.8,571.6 202.8,571.6 203.8,571.5 204.8,571.5 205.8,571.4 206.8,571.4 207.8,571.3 208.8,571.3 209.9,571.2M209.9,571.2 210.9,571.2 211.9,571.1 212.9,571.1 213.9,571.0 214.9,571.0 215.9,570.9 216.9,570.8 217.9,570.8 218.9,570.7 219.9,570.6 220.9,570.6 221.9,570.5 222.9,570.4 224.0,570.4 225.0,570.3 226.0,570.2 227.0,570.1 228.0,570.1 229.0,570.0 230.0,569.9 231.0,569.8 232.0,569.7 233.0,569.6 234.0,569.5 235.0,569.4 236.0,569.4 237.1,569.3 238.1,569.2 239.1,569.1 240.1,569.0 241.1,568.9 242.1,568.7 243.1,568.6 244.1,568.5 245.1,568.4 246.1,568.3 247.1,568.2 248.1,568.1 249.1,567.9 250.1,567.8 251.2,567.7 252.2,567.5 253.2,567.4 254.2,567.3 255.2,567.1 256.2,567.0 257.2,566.8 258.2,566.7 259.2,566.5 260.2,566.4 261.2,566.2 262.2,566.1 263.2,565.9 264.3,565.7 265.3,565.6 266.3,565.4 267.3,565.2 268.3,565.0 269.3,564.8 270.3,564.7 271.3,564.5 272.3,564.3 273.3,564.1 274.3,563.9 275.3,563.7 276.3,563.5 277.3,563.3 278.4,563.0 279.4,562.8 280.4,562.6 281.4,562.4 282.4,562.1 283.4,561.9 284.4,561.7 285.4,561.4 286.4,561.2 287.4,560.9 288.4,560.7 289.4,560.4 290.4,560.2 291.5,559.9 292.5,559.6 293.5,559.4 294.5,559.1 295.5,558.8 296.5,558.5 297.5,558.2 298.5,557.9 299.5,557.7 300.5,557.4 301.5,557.1 302.5,556.8 303.5,556.4 304.5,556.1 305.6,555.8 306.6,555.5 307.6,555.2 308.6,554.8 309.6,554.5 310.6,554.2 311.6,553.8 312.6,553.5 313.6,553.2 314.6,552.8 315.6,552.5 316.6,552.1 317.6,551.8 318.7,551.4 319.7,551.1 320.7,550.7 321.7,550.3 322.7,550.0 323.7,549.6 324.7,549.2 325.7,548.8 326.7,548.5 327.7,548.1 328.7,547.7 329.7,547.3 330.7,546.9 331.8,546.6M331.8,546.6 332.8,546.2 333.8,545.8 334.8,545.4 335.8,545.0 336.8,544.6 337.8,544.2 338.8,543.8 339.8,543.5 340.8,543.1 341.8,542.7 342.8,542.3 343.8,541.9 344.8,541.5 345.8,541.1 346.8,540.7 347.8,540.3 348.8,539.9 349.8,539.5 350.8,539.2 351.8,538.8 352.8,538.4 353.8,538.0 354.8,537.6 355.8,537.2 356.8,536.8 357.8,536.5 358.8,536.1 359.8,535.7 360.8,535.3 361.8,535.0 362.8,534.6 363.8,534.2 364.8,533.8 365.8,533.5 366.8,533.1 367.8,532.8 368.8,532.4 369.8,532.0 370.8,531.7 371.8,531.3 372.8,531.0 373.8,530.7 374.8,530.3 375.8,530.0 376.8,529.6 377.8,529.3 378.8,529.0 379.8,528.7 380.8,528.3" stroke="#ff0000" stroke-width="0.68" stroke-dasharray="10.5 4.5"/>
<path d="M88.0,549.1 89.0,549.1 90.0,549.1 91.0,549.1 92.0,549.1 93.0,549.1 94.0,549.1 95.0,549.1 96.0,549.1 97.0,549.1 98.0,549.1 99.0,549.1 100.0,549.1 101.0,549.1 102.1,549.1 103.1,549.1 104.1,549.1 105.1,549.1 106.1,549.1 107.1,549.1 108.1,549.1 109.1,549.1 110.1,549.1 111.1,549.1 112.1,549.1 113.1,549.1 114.1,549.1 115.2,549.1 116.2,549.1 117.2,549.1 118.2,549.1 119.2,549.1 120.2,549.1 121.2,549.1 122.2,549.1 123.2,549.0 124.2,549.0 125.2,549.0 126.2,549.0 127.2,549.0 128.2,549.0 129.3,549.0 130.3,549.0 131.3,549.0 132.3,549.0 133.3,549.0 134.3,549.0 135.3,549.0 136.3,549.0 137.3,549.0 138.3,549.0 139.3,549.0 140.3,549.0 141.3,549.0 142.4,549.0 143.4,549.0 144.4,549.0 145.4,549.0 146.4,549.0 147.4,549.0 148.4,549.0 149.4,549.0 150.4,549.0 151.4,548.9 152.4,548.9 153.4,548.9 154.4,548.9 155.4,548.9 156.5,548.9 157.5,548.9 158.5,548.9 159.5,548.9 160.5,548.9 161.5,548.9 162.5,548.9 163.5,548.9 164.5,548.9 165.5,548.9 166.5,548.9 167.5,548.8 168.5,548.8 169.6,548.8 170.6,548.8 171.6,548.8 172.6,548.8 173.6,548.8 174.6,548.8 175.6,548.8 176.6,548.8 177.6,548.8 178.6,548.8 179.6,548.7 180.6,548.7 181.6,548.7 182.6,548.7 183.7,548.7 184.7,548.7 185.7,548.7 186.7,548.7 187.7,548.7 188.7,548.6 189.7,548.6 190.7,548.6 191.7,548.6 192.7,548.6 193.7,548.6 194.7,548.6 195.7,548.6 196.8,548.5 197.8,548.5 198.8,548.5 199.8,548.5 200.8,548.5 201.8,548.5 202.8,548.4 203.8,548.4 204.8,548.4 205.8,548.4 206.8,548.4 207.8,548.3 208.8,548.3 209.9,548.3M209.9,548.3 210.9,548.3 211.9,548.3 212.9,548.2 213.9,548.2 214.9,548.2 215.9,548.2 216.9,548.1 217.9,548.1 218.9,548.1 219.9,548.1 220.9,548.0 221.9,548.0 222.9,548.0 224.0,548.0 225.0,547.9 226.0,547.9 227.0,547.9 228.0,547.8 229.0,547.8 230.0,547.8 231.0,547.7 232.0,547.7 233.0,547.7 234.0,547.6 235.0,547.6 236.0,547.6 237.1,547.5 238.1,547.5 239.1,547.4 240.1,547.4 241.1,547.4 242.1,547.3 243.1,547.3 244.1,547.2 245.1,547.2 246.1,547.1 247.1,547.1 248.1,547.0 249.1,547.0 250.1,546.9 251.2,546.9 252.2,546.8 253.2,546.8 254.2,546.7 255.2,546.7 256.2,546.6 257.2,546.5 258.2,546.5 259.2,546.4 260.2,546.4 261.2,546.3 262.2,546.2 263.2,546.2 264.3,546.1 265.3,546.0 266.3,545.9 267.3,545.9 268.3,545.8 269.3,545.7 270.3,545.6 271.3,545.6 272.3,545.5 273.3,545.4 274.3,545.3 275.3,545.2 276.3,545.1 277.3,545.0 278.4,544.9 279.4,544.9 280.4,544.8 281.4,544.7 282.4,544.6 283.4,544.5 284.4,544.4 285.4,544.2 286.4,544.1 287.4,544.0 288.4,543.9 289.4,543.8 290.4,543.7 291.5,543.6 292.5,543.4 293.5,543.3 294.5,543.2 295.5,543.1 296.5,542.9 297.5,542.8 298.5,542.7 299.5,542.5 300.5,542.4 301.5,542.3 302.5,542.1 303.5,542.0 304.5,541.8 305.6,541.7 306.6,541.5 307.6,541.4 308.6,541.2 309.6,541.1 310.6,540.9 311.6,540.7 312.6,540.6 313.6,540.4 314.6,540.2 315.6,540.1 316.6,539.9 317.6,539.7 318.7,539.5 319.7,539.3 320.7,539.2 321.7,539.0 322.7,538.8 323.7,538.6 324.7,538.4 325.7,538.2 326.7,538.0 327.7,537.8 328.7,537.6 329.7,537.4 330.7,537.2 331.8,537.0M331.8,537.0 332.8,536.8 333.8,536.6 334.8,536.3 335.8,536.1 336.8,535.9 337.8,535.7 338.8,535.5 339.8,535.3 340.8,535.0 341.8,534.8 342.8,534.6 343.8,534.4 344.8,534.1 345.8,533.9 346.8,533.7 347.8,533.4 348.8,533.2 349.8,533.0 350.8,532.7 351.8,532.5 352.8,532.3 353.8,532.0 354.8,531.8 355.8,531.6 356.8,531.3 357.8,531.1 358.8,530.8 359.8,530.6 360.8,530.4 361.8,530.1 362.8,529.9 363.8,529.6 364.8,529.4 365.8,529.2 366.8,528.9 367.8,528.7 368.8,528.4 369.8,528.2 370.8,528.0 371.8,527.7 372.8,527.5 373.8,527.2 374.8,527.0 375.8,526.8 376.8,526.5 377.8,526.3 378.8,526.1 379.8,525.8 380.8,525.6" stroke="#0000ff" stroke-width="0.68" stroke-dasharray="10.5 4.5"/>
</g>
<g clip-path="url(#c4)" fill="none">
<path d="M88.0,737.4 89.0,736.8 90.0,736.1 91.0,735.5 92.0,734.9 93.0,734.2 94.0,733.6 95.0,732.9 96.0,732.2 97.0,731.6 98.0,730.9 99.0,730.2 100.0,729.6 101.0,728.9 102.1,728.2 103.1,727.6 104.1,726.9 105.1,726.2 106.1,725.5 107.1,724.8 108.1,724.2 109.1,723.5 110.1,722.8 111.1,722.1 112.1,721.4 113.1,720.8 114.1,720.1 115.2,719.4 116.2,718.7 117.2,718.0 118.2,717.3 119.2,716.7 120.2,716.0 121.2,715.3 122.2,714.6 123.2,714.0 124.2,713.3 125.2,712.6 126.2,712.0 127.2,711.3 128.2,710.7 129.3,710.0 130.3,709.4 131.3,708.7 132.3,708.1 133.3,707.4 134.3,706.8 135.3,706.2 136.3,705.6 137.3,705.0 138.3,704.3 139.3,703.7 140.3,703.2 141.3,702.6 142.4,702.0 143.4,701.4 144.4,700.9 145.4,700.3 146.4,699.8 147.4,699.2 148.4,698.7 149.4,698.2 150.4,697.7 151.4,697.2 152.4,696.7 153.4,696.2 154.4,695.7 155.4,695.3 156.5,694.8 157.5,694.4 158.5,694.0 159.5,693.6 160.5,693.2 161.5,692.8 162.5,692.4 163.5,692.1 164.5,691.7 165.5,691.4 166.5,691.1 167.5,690.8 168.5,690.5 169.6,690.2 170.6,689.9 171.6,689.7 172.6,689.4 173.6,689.2 174.6,689.0 175.6,688.8 176.6,688.6 177.6,688.4 178.6,688.3 179.6,688.1 180.6,688.0 181.6,687.9 182.6,687.8 183.7,687.7 184.7,687.6 185.7,687.5 186.7,687.5 187.7,687.5 188.7,687.4 189.7,687.4 190.7,687.4 191.7,687.4 192.7,687.5 193.7,687.5 194.7,687.6 195.7,687.6 196.8,687.7 197.8,687.8 198.8,687.9 199.8,688.0 200.8,688.2 201.8,688.3 202.8,688.4 203.8,688.6 204.8,688.8 205.8,688.9 206.8,689.1 207.8,689.3 208.8,689.5 209.9,689.8M209.9,689.8 210.9,690.0 211.9,690.2 212.9,690.5 213.9,690.7 214.9,691.0 215.9,691.2 216.9,691.5 217.9,691.8 218.9,692.1 219.9,692.4 220.9,692.7 221.9,693.0 222.9,693.3 224.0,693.6 225.0,693.9 226.0,694.2 227.0,694.6 228.0,694.9 229.0,695.2 230.0,695.6 231.0,695.9 232.0,696.3 233.0,696.6 234.0,697.0 235.0,697.4 236.0,697.7 237.1,698.1 238.1,698.5 239.1,698.9 240.1,699.2 241.1,699.6 242.1,700.0 243.1,700.4 244.1,700.8 245.1,701.2 246.1,701.6 247.1,702.0 248.1,702.4 249.1,702.8 250.1,703.2 251.2,703.6 252.2,704.0 253.2,704.5 254.2,704.9 255.2,705.3 256.2,705.7 257.2,706.1 258.2,706.6 259.2,707.0 260.2,707.4 261.2,707.9 262.2,708.3 263.2,708.7 264.3,709.2 265.3,709.6 266.3,710.1 267.3,710.5 268.3,711.0 269.3,711.4 270.3,711.9 271.3,712.3 272.3,712.8 273.3,713.3 274.3,713.7 275.3,714.2 276.3,714.7 277.3,715.1 278.4,715.6 279.4,716.1 280.4,716.6 281.4,717.1 282.4,717.6 283.4,718.0 284.4,718.5 285.4,719.0 286.4,719.5 287.4,720.0 288.4,720.5 289.4,721.0 290.4,721.5 291.5,722.0 292.5,722.6 293.5,723.1 294.5,723.6 295.5,724.1 296.5,724.6 297.5,725.1 298.5,725.7 299.5,726.2 300.5,726.7 301.5,727.2 302.5,727.8 303.5,728.3 304.5,728.8 305.6,729.3 306.6,729.9 307.6,730.4 308.6,730.9 309.6,731.5 310.6,732.0 311.6,732.5 312.6,733.1 313.6,733.6 314.6,734.1 315.6,734.7 316.6,735.2 317.6,735.8 318.7,736.3 319.7,736.8 320.7,737.4 321.7,737.9 322.7,738.4 323.7,739.0 324.7,739.5 325.7,740.0 326.7,740.6 327.7,741.1 328.7,741.6 329.7,742.1 330.7,742.7 331.8,743.2M331.8,743.2 332.8,743.7 333.8,744.2 334.8,744.7 335.8,745.2 336.8,745.8 337.8,746.3 338.8,746.8 339.8,747.3 340.8,747.8 341.8,748.3 342.8,748.8 343.8,749.3 344.8,749.8 345.8,750.3 346.8,750.7 347.8,751.2 348.8,751.7 349.8,752.2 350.8,752.7 351.8,753.1 352.8,753.6 353.8,754.1 354.8,754.6 355.8,755.0 356.8,755.5 357.8,755.9 358.8,756.4 359.8,756.8 360.8,757.3 361.8,757.7 362.8,758.2 363.8,758.6 364.8,759.0 365.8,759.5 366.8,759.9 367.8,760.3 368.8,760.7 369.8,761.2 370.8,761.6 371.8,762.0 372.8,762.4 373.8,762.8 374.8,763.2 375.8,763.6 376.8,764.0 377.8,764.4 378.8,764.8 379.8,765.1 380.8,765.5" stroke="#00ffff" stroke-width="1.55" stroke-dasharray="15 4.7 2.5 5"/>
<path d="M88.0,736.7 89.0,736.1 90.0,735.4 91.0,734.8 92.0,734.1 93.0,733.5 94.0,732.8 95.0,732.1 96.0,731.5 97.0,730.8 98.0,730.1 99.0,729.4 100.0,728.8 101.0,728.1 102.1,727.4 103.1,726.7 104.1,726.0 105.1,725.3 106.1,724.6 107.1,723.9 108.1,723.2 109.1,722.5 110.1,721.8 111.1,721.2 112.1,720.5 113.1,719.8 114.1,719.1 115.2,718.4 116.2,717.7 117.2,717.0 118.2,716.3 119.2,715.6 120.2,714.9 121.2,714.2 122.2,713.5 123.2,712.8 124.2,712.1 125.2,711.4 126.2,710.7 127.2,710.0 128.2,709.4 129.3,708.7 130.3,708.0 131.3,707.4 132.3,706.7 133.3,706.0 134.3,705.4 135.3,704.7 136.3,704.1 137.3,703.4 138.3,702.8 139.3,702.2 140.3,701.6 141.3,700.9 142.4,700.3 143.4,699.7 144.4,699.1 145.4,698.6 146.4,698.0 147.4,697.4 148.4,696.8 149.4,696.3 150.4,695.7 151.4,695.2 152.4,694.7 153.4,694.2 154.4,693.7 155.4,693.2 156.5,692.7 157.5,692.2 158.5,691.7 159.5,691.3 160.5,690.8 161.5,690.4 162.5,690.0 163.5,689.6 164.5,689.2 165.5,688.8 166.5,688.4 167.5,688.0 168.5,687.7 169.6,687.3 170.6,687.0 171.6,686.7 172.6,686.4 173.6,686.1 174.6,685.8 175.6,685.5 176.6,685.3 177.6,685.0 178.6,684.8 179.6,684.6 180.6,684.4 181.6,684.2 182.6,684.0 183.7,683.8 184.7,683.6 185.7,683.5 186.7,683.3 187.7,683.2 188.7,683.1 189.7,683.0 190.7,682.9 191.7,682.8 192.7,682.7 193.7,682.6 194.7,682.6 195.7,682.5 196.8,682.5 197.8,682.4 198.8,682.4 199.8,682.4 200.8,682.4 201.8,682.4 202.8,682.4 203.8,682.4 204.8,682.4 205.8,682.4 206.8,682.4 207.8,682.5 208.8,682.5 209.9,682.5M209.9,682.5 210.9,682.6 211.9,682.6 212.9,682.7 213.9,682.7 214.9,682.8 215.9,682.9 216.9,682.9 217.9,683.0 218.9,683.1 219.9,683.1 220.9,683.2 221.9,683.3 222.9,683.3 224.0,683.4 225.0,683.5 226.0,683.6 227.0,683.6 228.0,683.7 229.0,683.8 230.0,683.8 231.0,683.9 232.0,684.0 233.0,684.0 234.0,684.1 235.0,684.1 236.0,684.2 237.1,684.2 238.1,684.3 239.1,684.3 240.1,684.3 241.1,684.4 242.1,684.4 243.1,684.4 244.1,684.4 245.1,684.5 246.1,684.5 247.1,684.5 248.1,684.5 249.1,684.5 250.1,684.5 251.2,684.5 252.2,684.4 253.2,684.4 254.2,684.4 255.2,684.3 256.2,684.3 257.2,684.3 258.2,684.2 259.2,684.2 260.2,684.1 261.2,684.0 262.2,684.0 263.2,683.9 264.3,683.8 265.3,683.7 266.3,683.6 267.3,683.6 268.3,683.5 269.3,683.4 270.3,683.2 271.3,683.1 272.3,683.0 273.3,682.9 274.3,682.8 275.3,682.7 276.3,682.5 277.3,682.4 278.4,682.3 279.4,682.1 280.4,682.0 281.4,681.8 282.4,681.7 283.4,681.5 284.4,681.4 285.4,681.2 286.4,681.1 287.4,680.9 288.4,680.8 289.4,680.6 290.4,680.4 291.5,680.3 292.5,680.1 293.5,679.9 294.5,679.8 295.5,679.6 296.5,679.5 297.5,679.3 298.5,679.1 299.5,679.0 300.5,678.8 301.5,678.7 302.5,678.5 303.5,678.4 304.5,678.2 305.6,678.1 306.6,678.0 307.6,677.8 308.6,677.7 309.6,677.6 310.6,677.4 311.6,677.3 312.6,677.2 313.6,677.1 314.6,677.0 315.6,676.9 316.6,676.8 317.6,676.8 318.7,676.7 319.7,676.6 320.7,676.6 321.7,676.5 322.7,676.5 323.7,676.5 324.7,676.4 325.7,676.4 326.7,676.4 327.7,676.4 328.7,676.5 329.7,676.5 330.7,676.5 331.8,676.6M331.8,676.6 332.8,676.7 333.8,676.7 334.8,676.8 335.8,676.9 336.8,677.0 337.8,677.1 338.8,677.3 339.8,677.4 340.8,677.6 341.8,677.8 342.8,677.9 343.8,678.1 344.8,678.3 345.8,678.6 346.8,678.8 347.8,679.0 348.8,679.3 349.8,679.6 350.8,679.9 351.8,680.2 352.8,680.5 353.8,680.8 354.8,681.1 355.8,681.5 356.8,681.9 357.8,682.2 358.8,682.6 359.8,683.0 360.8,683.4 361.8,683.9 362.8,684.3 363.8,684.7 364.8,685.2 365.8,685.7 366.8,686.2 367.8,686.6 368.8,687.2 369.8,687.7 370.8,688.2 371.8,688.7 372.8,689.3 373.8,689.8 374.8,690.4 375.8,691.0 376.8,691.6 377.8,692.2 378.8,692.8 379.8,693.4 380.8,694.0" stroke="#ff0000" stroke-width="2.4" stroke-dasharray="10 5"/>
<path d="M88.0,737.2 89.0,736.5 90.0,735.9 91.0,735.2 92.0,734.6 93.0,733.9 94.0,733.3 95.0,732.6 96.0,731.9 97.0,731.3 98.0,730.6 99.0,729.9 100.0,729.3 101.0,728.6 102.1,727.9 103.1,727.2 104.1,726.6 105.1,725.9 106.1,725.2 107.1,724.5 108.1,723.8 109.1,723.1 110.1,722.4 111.1,721.8 112.1,721.1 113.1,720.4 114.1,719.7 115.2,719.0 116.2,718.3 117.2,717.6 118.2,716.9 119.2,716.2 120.2,715.6 121.2,714.9 122.2,714.2 123.2,713.5 124.2,712.8 125.2,712.2 126.2,711.5 127.2,710.8 128.2,710.2 129.3,709.5 130.3,708.8 131.3,708.2 132.3,707.5 133.3,706.9 134.3,706.3 135.3,705.6 136.3,705.0 137.3,704.4 138.3,703.8 139.3,703.1 140.3,702.5 141.3,701.9 142.4,701.4 143.4,700.8 144.4,700.2 145.4,699.6 146.4,699.1 147.4,698.5 148.4,698.0 149.4,697.5 150.4,696.9 151.4,696.4 152.4,695.9 153.4,695.4 154.4,694.9 155.4,694.5 156.5,694.0 157.5,693.6 158.5,693.1 159.5,692.7 160.5,692.3 161.5,691.9 162.5,691.5 163.5,691.1 164.5,690.7 165.5,690.4 166.5,690.0 167.5,689.7 168.5,689.4 169.6,689.1 170.6,688.8 171.6,688.5 172.6,688.2 173.6,688.0 174.6,687.7 175.6,687.5 176.6,687.3 177.6,687.1 178.6,686.9 179.6,686.7 180.6,686.6 181.6,686.4 182.6,686.3 183.7,686.2 184.7,686.1 185.7,686.0 186.7,685.9 187.7,685.8 188.7,685.7 189.7,685.7 190.7,685.6 191.7,685.6 192.7,685.6 193.7,685.6 194.7,685.6 195.7,685.6 196.8,685.7 197.8,685.7 198.8,685.7 199.8,685.8 200.8,685.9 201.8,686.0 202.8,686.0 203.8,686.1 204.8,686.2 205.8,686.4 206.8,686.5 207.8,686.6 208.8,686.7 209.9,686.9M209.9,686.9 210.9,687.0 211.9,687.2 212.9,687.4 213.9,687.5 214.9,687.7 215.9,687.9 216.9,688.1 217.9,688.3 218.9,688.5 219.9,688.6 220.9,688.8 221.9,689.1 222.9,689.3 224.0,689.5 225.0,689.7 226.0,689.9 227.0,690.1 228.0,690.3 229.0,690.6 230.0,690.8 231.0,691.0 232.0,691.2 233.0,691.5 234.0,691.7 235.0,691.9 236.0,692.1 237.1,692.4 238.1,692.6 239.1,692.8 240.1,693.0 241.1,693.3 242.1,693.5 243.1,693.7 244.1,693.9 245.1,694.1 246.1,694.3 247.1,694.6 248.1,694.8 249.1,695.0 250.1,695.2 251.2,695.4 252.2,695.6 253.2,695.8 254.2,696.0 255.2,696.2 256.2,696.4 257.2,696.6 258.2,696.8 259.2,697.0 260.2,697.1 261.2,697.3 262.2,697.5 263.2,697.7 264.3,697.8 265.3,698.0 266.3,698.2 267.3,698.3 268.3,698.5 269.3,698.6 270.3,698.8 271.3,698.9 272.3,699.1 273.3,699.2 274.3,699.3 275.3,699.5 276.3,699.6 277.3,699.7 278.4,699.8 279.4,700.0 280.4,700.1 281.4,700.2 282.4,700.3 283.4,700.4 284.4,700.5 285.4,700.6 286.4,700.6 287.4,700.7 288.4,700.8 289.4,700.9 290.4,701.0 291.5,701.0 292.5,701.1 293.5,701.1 294.5,701.2 295.5,701.3 296.5,701.3 297.5,701.3 298.5,701.4 299.5,701.4 300.5,701.5 301.5,701.5 302.5,701.5 303.5,701.5 304.5,701.5 305.6,701.6 306.6,701.6 307.6,701.6 308.6,701.6 309.6,701.6 310.6,701.6 311.6,701.6 312.6,701.6 313.6,701.6 314.6,701.6 315.6,701.6 316.6,701.5 317.6,701.5 318.7,701.5 319.7,701.5 320.7,701.5 321.7,701.5 322.7,701.4 323.7,701.4 324.7,701.4 325.7,701.4 326.7,701.4 327.7,701.4 328.7,701.3 329.7,701.3 330.7,701.3 331.8,701.3M331.8,701.3 332.8,701.3 333.8,701.3 334.8,701.3 335.8,701.3 336.8,701.3 337.8,701.3 338.8,701.3 339.8,701.3 340.8,701.4 341.8,701.4 342.8,701.4 343.8,701.5 344.8,701.5 345.8,701.5 346.8,701.6 347.8,701.7 348.8,701.7 349.8,701.8 350.8,701.9 351.8,702.0 352.8,702.0 353.8,702.1 354.8,702.3 355.8,702.4 356.8,702.5 357.8,702.6 358.8,702.8 359.8,702.9 360.8,703.1 361.8,703.2 362.8,703.4 363.8,703.6 364.8,703.8 365.8,704.0 366.8,704.2 367.8,704.4 368.8,704.7 369.8,704.9 370.8,705.2 371.8,705.4 372.8,705.7 373.8,706.0 374.8,706.2 375.8,706.5 376.8,706.8 377.8,707.2 378.8,707.5 379.8,707.8 380.8,708.2" stroke="#0000ff" stroke-width="2.4" stroke-dasharray="10 5"/>
<path d="M88.0,789.8 89.0,789.7 90.0,789.6 91.0,789.4 92.0,789.3 93.0,789.2 94.0,789.1 95.0,789.0 96.0,788.8 97.0,788.7 98.0,788.6 99.0,788.4 100.0,788.3 101.0,788.2 102.1,788.0 103.1,787.9 104.1,787.8 105.1,787.6 106.1,787.5 107.1,787.3 108.1,787.2 109.1,787.1 110.1,786.9 111.1,786.8 112.1,786.6 113.1,786.4 114.1,786.3 115.2,786.1 116.2,786.0 117.2,785.8 118.2,785.6 119.2,785.5 120.2,785.3 121.2,785.1 122.2,785.0 123.2,784.8 124.2,784.6 125.2,784.4 126.2,784.2 127.2,784.1 128.2,783.9 129.3,783.7 130.3,783.5 131.3,783.3 132.3,783.1 133.3,782.9 134.3,782.7 135.3,782.5 136.3,782.3 137.3,782.1 138.3,781.9 139.3,781.7 140.3,781.5 141.3,781.2 142.4,781.0 143.4,780.8 144.4,780.6 145.4,780.3 146.4,780.1 147.4,779.9 148.4,779.6 149.4,779.4 150.4,779.2 151.4,778.9 152.4,778.7 153.4,778.4 154.4,778.2 155.4,777.9 156.5,777.6 157.5,777.4 158.5,777.1 159.5,776.8 160.5,776.6 161.5,776.3 162.5,776.0 163.5,775.7 164.5,775.4 165.5,775.2 166.5,774.9 167.5,774.6 168.5,774.3 169.6,774.0 170.6,773.7 171.6,773.3 172.6,773.0 173.6,772.7 174.6,772.4 175.6,772.1 176.6,771.7 177.6,771.4 178.6,771.1 179.6,770.7 180.6,770.4 181.6,770.0 182.6,769.7 183.7,769.3 184.7,769.0 185.7,768.6 186.7,768.3 187.7,767.9 188.7,767.5 189.7,767.1 190.7,766.7 191.7,766.4 192.7,766.0 193.7,765.6 194.7,765.2 195.7,764.8 196.8,764.4 197.8,763.9 198.8,763.5 199.8,763.1 200.8,762.7 201.8,762.2 202.8,761.8 203.8,761.4 204.8,760.9 205.8,760.5 206.8,760.0 207.8,759.6 208.8,759.1 209.9,758.6M209.9,758.6 210.9,758.2 211.9,757.7 212.9,757.2 213.9,756.7 214.9,756.2 215.9,755.7 216.9,755.2 217.9,754.7 218.9,754.2 219.9,753.7 220.9,753.2 221.9,752.7 222.9,752.1 224.0,751.6 225.0,751.1 226.0,750.5 227.0,750.0 228.0,749.4 229.0,748.9 230.0,748.3 231.0,747.8 232.0,747.2 233.0,746.6 234.0,746.0 235.0,745.5 236.0,744.9 237.1,744.3 238.1,743.7 239.1,743.1 240.1,742.5 241.1,741.9 242.1,741.3 243.1,740.6 244.1,740.0 245.1,739.4 246.1,738.8 247.1,738.1 248.1,737.5 249.1,736.9 250.1,736.2 251.2,735.6 252.2,734.9 253.2,734.3 254.2,733.6 255.2,732.9 256.2,732.3 257.2,731.6 258.2,731.0 259.2,730.3 260.2,729.6 261.2,728.9 262.2,728.3 263.2,727.6 264.3,726.9 265.3,726.2 266.3,725.5 267.3,724.8 268.3,724.2 269.3,723.5 270.3,722.8 271.3,722.1 272.3,721.4 273.3,720.7 274.3,720.0 275.3,719.3 276.3,718.7 277.3,718.0 278.4,717.3 279.4,716.6 280.4,715.9 281.4,715.2 282.4,714.6 283.4,713.9 284.4,713.2 285.4,712.5 286.4,711.9 287.4,711.2 288.4,710.5 289.4,709.9 290.4,709.2 291.5,708.6 292.5,707.9 293.5,707.3 294.5,706.7 295.5,706.0 296.5,705.4 297.5,704.8 298.5,704.2 299.5,703.6 300.5,703.0 301.5,702.4 302.5,701.9 303.5,701.3 304.5,700.7 305.6,700.2 306.6,699.6 307.6,699.1 308.6,698.6 309.6,698.1 310.6,697.6 311.6,697.1 312.6,696.6 313.6,696.1 314.6,695.7 315.6,695.2 316.6,694.8 317.6,694.4 318.7,694.0 319.7,693.6 320.7,693.2 321.7,692.9 322.7,692.5 323.7,692.2 324.7,691.9 325.7,691.6 326.7,691.3 327.7,691.0 328.7,690.7 329.7,690.5 330.7,690.3 331.8,690.1M331.8,690.1 332.8,689.9 333.8,689.7 334.8,689.5 335.8,689.4 336.8,689.3 337.8,689.1 338.8,689.1 339.8,689.0 340.8,688.9 341.8,688.9 342.8,688.8 343.8,688.8 344.8,688.8 345.8,688.9 346.8,688.9 347.8,689.0 348.8,689.0 349.8,689.1 350.8,689.2 351.8,689.4 352.8,689.5 353.8,689.7 354.8,689.8 355.8,690.0 356.8,690.2 357.8,690.5 358.8,690.7 359.8,691.0 360.8,691.2 361.8,691.5 362.8,691.8 363.8,692.1 364.8,692.4 365.8,692.8 366.8,693.1 367.8,693.5 368.8,693.9 369.8,694.3 370.8,694.7 371.8,695.1 372.8,695.6 373.8,696.0 374.8,696.5 375.8,696.9 376.8,697.4 377.8,697.9 378.8,698.4 379.8,698.9 380.8,699.5" stroke="#ff0000" stroke-width="0.68" stroke-dasharray="10.5 4.5"/>
<path d="M88.0,793.3 89.0,793.3 90.0,793.2 91.0,793.1 92.0,793.0 93.0,793.0 94.0,792.9 95.0,792.8 96.0,792.7 97.0,792.7 98.0,792.6 99.0,792.5 100.0,792.4 101.0,792.3 102.1,792.3 103.1,792.2 104.1,792.1 105.1,792.0 106.1,791.9 107.1,791.8 108.1,791.7 109.1,791.6 110.1,791.5 111.1,791.5 112.1,791.4 113.1,791.3 114.1,791.2 115.2,791.1 116.2,791.0 117.2,790.9 118.2,790.8 119.2,790.7 120.2,790.6 121.2,790.5 122.2,790.3 123.2,790.2 124.2,790.1 125.2,790.0 126.2,789.9 127.2,789.8 128.2,789.7 129.3,789.6 130.3,789.4 131.3,789.3 132.3,789.2 133.3,789.1 134.3,789.0 135.3,788.8 136.3,788.7 137.3,788.6 138.3,788.4 139.3,788.3 140.3,788.2 141.3,788.0 142.4,787.9 143.4,787.8 144.4,787.6 145.4,787.5 146.4,787.3 147.4,787.2 148.4,787.1 149.4,786.9 150.4,786.8 151.4,786.6 152.4,786.4 153.4,786.3 154.4,786.1 155.4,786.0 156.5,785.8 157.5,785.6 158.5,785.5 159.5,785.3 160.5,785.1 161.5,785.0 162.5,784.8 163.5,784.6 164.5,784.4 165.5,784.3 166.5,784.1 167.5,783.9 168.5,783.7 169.6,783.5 170.6,783.3 171.6,783.1 172.6,782.9 173.6,782.7 174.6,782.5 175.6,782.3 176.6,782.1 177.6,781.9 178.6,781.7 179.6,781.5 180.6,781.3 181.6,781.1 182.6,780.8 183.7,780.6 184.7,780.4 185.7,780.2 186.7,779.9 187.7,779.7 188.7,779.5 189.7,779.2 190.7,779.0 191.7,778.7 192.7,778.5 193.7,778.2 194.7,778.0 195.7,777.7 196.8,777.5 197.8,777.2 198.8,776.9 199.8,776.7 200.8,776.4 201.8,776.1 202.8,775.9 203.8,775.6 204.8,775.3 205.8,775.0 206.8,774.7 207.8,774.4 208.8,774.1 209.9,773.8M209.9,773.8 210.9,773.5 211.9,773.2 212.9,772.9 213.9,772.6 214.9,772.3 215.9,772.0 216.9,771.6 217.9,771.3 218.9,771.0 219.9,770.6 220.9,770.3 221.9,770.0 222.9,769.6 224.0,769.3 225.0,768.9 226.0,768.6 227.0,768.2 228.0,767.9 229.0,767.5 230.0,767.1 231.0,766.8 232.0,766.4 233.0,766.0 234.0,765.6 235.0,765.2 236.0,764.8 237.1,764.4 238.1,764.0 239.1,763.6 240.1,763.2 241.1,762.8 242.1,762.4 243.1,762.0 244.1,761.6 245.1,761.2 246.1,760.7 247.1,760.3 248.1,759.9 249.1,759.4 250.1,759.0 251.2,758.5 252.2,758.1 253.2,757.6 254.2,757.2 255.2,756.7 256.2,756.3 257.2,755.8 258.2,755.3 259.2,754.9 260.2,754.4 261.2,753.9 262.2,753.4 263.2,752.9 264.3,752.4 265.3,752.0 266.3,751.5 267.3,751.0 268.3,750.5 269.3,750.0 270.3,749.5 271.3,748.9 272.3,748.4 273.3,747.9 274.3,747.4 275.3,746.9 276.3,746.4 277.3,745.8 278.4,745.3 279.4,744.8 280.4,744.3 281.4,743.7 282.4,743.2 283.4,742.7 284.4,742.1 285.4,741.6 286.4,741.1 287.4,740.5 288.4,740.0 289.4,739.4 290.4,738.9 291.5,738.4 292.5,737.8 293.5,737.3 294.5,736.7 295.5,736.2 296.5,735.7 297.5,735.1 298.5,734.6 299.5,734.1 300.5,733.5 301.5,733.0 302.5,732.5 303.5,731.9 304.5,731.4 305.6,730.9 306.6,730.4 307.6,729.8 308.6,729.3 309.6,728.8 310.6,728.3 311.6,727.8 312.6,727.3 313.6,726.8 314.6,726.3 315.6,725.8 316.6,725.3 317.6,724.8 318.7,724.4 319.7,723.9 320.7,723.4 321.7,723.0 322.7,722.5 323.7,722.1 324.7,721.7 325.7,721.2 326.7,720.8 327.7,720.4 328.7,720.0 329.7,719.6 330.7,719.2 331.8,718.8M331.8,718.8 332.8,718.5 333.8,718.1 334.8,717.8 335.8,717.4 336.8,717.1 337.8,716.8 338.8,716.5 339.8,716.2 340.8,715.9 341.8,715.6 342.8,715.3 343.8,715.1 344.8,714.8 345.8,714.6 346.8,714.4 347.8,714.2 348.8,714.0 349.8,713.8 350.8,713.6 351.8,713.5 352.8,713.3 353.8,713.2 354.8,713.1 355.8,713.0 356.8,712.9 357.8,712.8 358.8,712.7 359.8,712.7 360.8,712.6 361.8,712.6 362.8,712.6 363.8,712.6 364.8,712.6 365.8,712.6 366.8,712.7 367.8,712.7 368.8,712.8 369.8,712.8 370.8,712.9 371.8,713.0 372.8,713.2 373.8,713.3 374.8,713.4 375.8,713.6 376.8,713.8 377.8,713.9 378.8,714.1 379.8,714.3 380.8,714.5" stroke="#0000ff" stroke-width="0.68" stroke-dasharray="10.5 4.5"/>
</g>
<path d="M87.95,81.0H380.75V224.4H87.95ZM102.33,224.4v-5.0M195.13,224.4v-5.0M287.94,224.4v-5.0M380.75,224.4v-5.0M87.95,224.4v-2.5M93.33,224.4v-2.5M98.08,224.4v-2.5M130.26,224.4v-2.5M146.61,224.4v-2.5M158.20,224.4v-2.5M167.20,224.4v-2.5M174.54,224.4v-2.5M180.76,224.4v-2.5M186.14,224.4v-2.5M190.89,224.4v-2.5M223.07,224.4v-2.5M239.41,224.4v-2.5M251.01,224.4v-2.5M260.00,224.4v-2.5M267.35,224.4v-2.5M273.57,224.4v-2.5M278.95,224.4v-2.5M283.70,224.4v-2.5M315.88,224.4v-2.5M332.22,224.4v-2.5M343.82,224.4v-2.5M352.81,224.4v-2.5M360.16,224.4v-2.5M366.37,224.4v-2.5M371.76,224.4v-2.5M376.50,224.4v-2.5M165.70,81.0v5.0M258.51,81.0v5.0M351.32,81.0v5.0M100.83,81.0v2.5M117.17,81.0v2.5M128.77,81.0v2.5M137.76,81.0v2.5M145.11,81.0v2.5M151.32,81.0v2.5M156.71,81.0v2.5M161.45,81.0v2.5M193.64,81.0v2.5M209.98,81.0v2.5M221.58,81.0v2.5M230.57,81.0v2.5M237.92,81.0v2.5M244.13,81.0v2.5M249.51,81.0v2.5M254.26,81.0v2.5M286.45,81.0v2.5M302.79,81.0v2.5M314.38,81.0v2.5M323.38,81.0v2.5M330.73,81.0v2.5M336.94,81.0v2.5M342.32,81.0v2.5M347.07,81.0v2.5M379.25,81.0v2.5M87.95,224.4H380.75V368.3H87.95ZM102.33,368.3v-5.0M195.13,368.3v-5.0M287.94,368.3v-5.0M380.75,368.3v-5.0M87.95,368.3v-2.5M93.33,368.3v-2.5M98.08,368.3v-2.5M130.26,368.3v-2.5M146.61,368.3v-2.5M158.20,368.3v-2.5M167.20,368.3v-2.5M174.54,368.3v-2.5M180.76,368.3v-2.5M186.14,368.3v-2.5M190.89,368.3v-2.5M223.07,368.3v-2.5M239.41,368.3v-2.5M251.01,368.3v-2.5M260.00,368.3v-2.5M267.35,368.3v-2.5M273.57,368.3v-2.5M278.95,368.3v-2.5M283.70,368.3v-2.5M315.88,368.3v-2.5M332.22,368.3v-2.5M343.82,368.3v-2.5M352.81,368.3v-2.5M360.16,368.3v-2.5M366.37,368.3v-2.5M371.76,368.3v-2.5M376.50,368.3v-2.5M165.70,224.4v5.0M258.51,224.4v5.0M351.32,224.4v5.0M100.83,224.4v2.5M117.17,224.4v2.5M128.77,224.4v2.5M137.76,224.4v2.5M145.11,224.4v2.5M151.32,224.4v2.5M156.71,224.4v2.5M161.45,224.4v2.5M193.64,224.4v2.5M209.98,224.4v2.5M221.58,224.4v2.5M230.57,224.4v2.5M237.92,224.4v2.5M244.13,224.4v2.5M249.51,224.4v2.5M254.26,224.4v2.5M286.45,224.4v2.5M302.79,224.4v2.5M314.38,224.4v2.5M323.38,224.4v2.5M330.73,224.4v2.5M336.94,224.4v2.5M342.32,224.4v2.5M347.07,224.4v2.5M379.25,224.4v2.5M87.95,368.3H380.75V511.8H87.95ZM102.33,511.8v-5.0M195.13,511.8v-5.0M287.94,511.8v-5.0M380.75,511.8v-5.0M87.95,511.8v-2.5M93.33,511.8v-2.5M98.08,511.8v-2.5M130.26,511.8v-2.5M146.61,511.8v-2.5M158.20,511.8v-2.5M167.20,511.8v-2.5M174.54,511.8v-2.5M180.76,511.8v-2.5M186.14,511.8v-2.5M190.89,511.8v-2.5M223.07,511.8v-2.5M239.41,511.8v-2.5M251.01,511.8v-2.5M260.00,511.8v-2.5M267.35,511.8v-2.5M273.57,511.8v-2.5M278.95,511.8v-2.5M283.70,511.8v-2.5M315.88,511.8v-2.5M332.22,511.8v-2.5M343.82,511.8v-2.5M352.81,511.8v-2.5M360.16,511.8v-2.5M366.37,511.8v-2.5M371.76,511.8v-2.5M376.50,511.8v-2.5M165.70,368.3v5.0M258.51,368.3v5.0M351.32,368.3v5.0M100.83,368.3v2.5M117.17,368.3v2.5M128.77,368.3v2.5M137.76,368.3v2.5M145.11,368.3v2.5M151.32,368.3v2.5M156.71,368.3v2.5M161.45,368.3v2.5M193.64,368.3v2.5M209.98,368.3v2.5M221.58,368.3v2.5M230.57,368.3v2.5M237.92,368.3v2.5M244.13,368.3v2.5M249.51,368.3v2.5M254.26,368.3v2.5M286.45,368.3v2.5M302.79,368.3v2.5M314.38,368.3v2.5M323.38,368.3v2.5M330.73,368.3v2.5M336.94,368.3v2.5M342.32,368.3v2.5M347.07,368.3v2.5M379.25,368.3v2.5M87.95,511.8H380.75V655.5H87.95ZM102.33,655.5v-5.0M195.13,655.5v-5.0M287.94,655.5v-5.0M380.75,655.5v-5.0M87.95,655.5v-2.5M93.33,655.5v-2.5M98.08,655.5v-2.5M130.26,655.5v-2.5M146.61,655.5v-2.5M158.20,655.5v-2.5M167.20,655.5v-2.5M174.54,655.5v-2.5M180.76,655.5v-2.5M186.14,655.5v-2.5M190.89,655.5v-2.5M223.07,655.5v-2.5M239.41,655.5v-2.5M251.01,655.5v-2.5M260.00,655.5v-2.5M267.35,655.5v-2.5M273.57,655.5v-2.5M278.95,655.5v-2.5M283.70,655.5v-2.5M315.88,655.5v-2.5M332.22,655.5v-2.5M343.82,655.5v-2.5M352.81,655.5v-2.5M360.16,655.5v-2.5M366.37,655.5v-2.5M371.76,655.5v-2.5M376.50,655.5v-2.5M165.70,511.8v5.0M258.51,511.8v5.0M351.32,511.8v5.0M100.83,511.8v2.5M117.17,511.8v2.5M128.77,511.8v2.5M137.76,511.8v2.5M145.11,511.8v2.5M151.32,511.8v2.5M156.71,511.8v2.5M161.45,511.8v2.5M193.64,511.8v2.5M209.98,511.8v2.5M221.58,511.8v2.5M230.57,511.8v2.5M237.92,511.8v2.5M244.13,511.8v2.5M249.51,511.8v2.5M254.26,511.8v2.5M286.45,511.8v2.5M302.79,511.8v2.5M314.38,511.8v2.5M323.38,511.8v2.5M330.73,511.8v2.5M336.94,511.8v2.5M342.32,511.8v2.5M347.07,511.8v2.5M379.25,511.8v2.5M87.95,655.5H380.75V799.0H87.95ZM102.33,799.0v-5.0M195.13,799.0v-5.0M287.94,799.0v-5.0M380.75,799.0v-5.0M87.95,799.0v-2.5M93.33,799.0v-2.5M98.08,799.0v-2.5M130.26,799.0v-2.5M146.61,799.0v-2.5M158.20,799.0v-2.5M167.20,799.0v-2.5M174.54,799.0v-2.5M180.76,799.0v-2.5M186.14,799.0v-2.5M190.89,799.0v-2.5M223.07,799.0v-2.5M239.41,799.0v-2.5M251.01,799.0v-2.5M260.00,799.0v-2.5M267.35,799.0v-2.5M273.57,799.0v-2.5M278.95,799.0v-2.5M283.70,799.0v-2.5M315.88,799.0v-2.5M332.22,799.0v-2.5M343.82,799.0v-2.5M352.81,799.0v-2.5M360.16,799.0v-2.5M366.37,799.0v-2.5M371.76,799.0v-2.5M376.50,799.0v-2.5M165.70,655.5v5.0M258.51,655.5v5.0M351.32,655.5v5.0M100.83,655.5v2.5M117.17,655.5v2.5M128.77,655.5v2.5M137.76,655.5v2.5M145.11,655.5v2.5M151.32,655.5v2.5M156.71,655.5v2.5M161.45,655.5v2.5M193.64,655.5v2.5M209.98,655.5v2.5M221.58,655.5v2.5M230.57,655.5v2.5M237.92,655.5v2.5M244.13,655.5v2.5M249.51,655.5v2.5M254.26,655.5v2.5M286.45,655.5v2.5M302.79,655.5v2.5M314.38,655.5v2.5M323.38,655.5v2.5M330.73,655.5v2.5M336.94,655.5v2.5M342.32,655.5v2.5M347.07,655.5v2.5M379.25,655.5v2.5M87.95,208.00h5.0M380.75,208.00h-5.0M87.95,176.30h5.0M380.75,176.30h-5.0M87.95,144.60h5.0M380.75,144.60h-5.0M87.95,112.90h5.0M380.75,112.90h-5.0M87.95,81.20h5.0M380.75,81.20h-5.0M87.95,220.61h2.5M380.75,220.61h-2.5M87.95,217.54h2.5M380.75,217.54h-2.5M87.95,215.03h2.5M380.75,215.03h-2.5M87.95,212.91h2.5M380.75,212.91h-2.5M87.95,211.07h2.5M380.75,211.07h-2.5M87.95,209.45h2.5M380.75,209.45h-2.5M87.95,198.46h2.5M380.75,198.46h-2.5M87.95,192.88h2.5M380.75,192.88h-2.5M87.95,188.91h2.5M380.75,188.91h-2.5M87.95,185.84h2.5M380.75,185.84h-2.5M87.95,183.33h2.5M380.75,183.33h-2.5M87.95,181.21h2.5M380.75,181.21h-2.5M87.95,179.37h2.5M380.75,179.37h-2.5M87.95,177.75h2.5M380.75,177.75h-2.5M87.95,166.76h2.5M380.75,166.76h-2.5M87.95,161.18h2.5M380.75,161.18h-2.5M87.95,157.21h2.5M380.75,157.21h-2.5M87.95,154.14h2.5M380.75,154.14h-2.5M87.95,151.63h2.5M380.75,151.63h-2.5M87.95,149.51h2.5M380.75,149.51h-2.5M87.95,147.67h2.5M380.75,147.67h-2.5M87.95,146.05h2.5M380.75,146.05h-2.5M87.95,135.06h2.5M380.75,135.06h-2.5M87.95,129.48h2.5M380.75,129.48h-2.5M87.95,125.51h2.5M380.75,125.51h-2.5M87.95,122.44h2.5M380.75,122.44h-2.5M87.95,119.93h2.5M380.75,119.93h-2.5M87.95,117.81h2.5M380.75,117.81h-2.5M87.95,115.97h2.5M380.75,115.97h-2.5M87.95,114.35h2.5M380.75,114.35h-2.5M87.95,103.36h2.5M380.75,103.36h-2.5M87.95,97.78h2.5M380.75,97.78h-2.5M87.95,93.81h2.5M380.75,93.81h-2.5M87.95,90.74h2.5M380.75,90.74h-2.5M87.95,88.23h2.5M380.75,88.23h-2.5M87.95,86.11h2.5M380.75,86.11h-2.5M87.95,84.27h2.5M380.75,84.27h-2.5M87.95,82.65h2.5M380.75,82.65h-2.5M87.95,333.30h5.0M380.75,333.30h-5.0M87.95,283.20h5.0M380.75,283.20h-5.0M87.95,233.10h5.0M380.75,233.10h-5.0M87.95,368.32h2.5M380.75,368.32h-2.5M87.95,359.50h2.5M380.75,359.50h-2.5M87.95,353.24h2.5M380.75,353.24h-2.5M87.95,348.38h2.5M380.75,348.38h-2.5M87.95,344.41h2.5M380.75,344.41h-2.5M87.95,341.06h2.5M380.75,341.06h-2.5M87.95,338.16h2.5M380.75,338.16h-2.5M87.95,335.59h2.5M380.75,335.59h-2.5M87.95,318.22h2.5M380.75,318.22h-2.5M87.95,309.40h2.5M380.75,309.40h-2.5M87.95,303.14h2.5M380.75,303.14h-2.5M87.95,298.28h2.5M380.75,298.28h-2.5M87.95,294.31h2.5M380.75,294.31h-2.5M87.95,290.96h2.5M380.75,290.96h-2.5M87.95,288.06h2.5M380.75,288.06h-2.5M87.95,285.49h2.5M380.75,285.49h-2.5M87.95,268.12h2.5M380.75,268.12h-2.5M87.95,259.30h2.5M380.75,259.30h-2.5M87.95,253.04h2.5M380.75,253.04h-2.5M87.95,248.18h2.5M380.75,248.18h-2.5M87.95,244.21h2.5M380.75,244.21h-2.5M87.95,240.86h2.5M380.75,240.86h-2.5M87.95,237.96h2.5M380.75,237.96h-2.5M87.95,235.39h2.5M380.75,235.39h-2.5M87.95,511.94h5.0M380.75,511.94h-5.0M87.95,468.47h5.0M380.75,468.47h-5.0M87.95,425.00h5.0M380.75,425.00h-5.0M87.95,381.53h5.0M380.75,381.53h-5.0M87.95,498.85h2.5M380.75,498.85h-2.5M87.95,491.20h2.5M380.75,491.20h-2.5M87.95,485.77h2.5M380.75,485.77h-2.5M87.95,481.56h2.5M380.75,481.56h-2.5M87.95,478.11h2.5M380.75,478.11h-2.5M87.95,475.20h2.5M380.75,475.20h-2.5M87.95,472.68h2.5M380.75,472.68h-2.5M87.95,470.46h2.5M380.75,470.46h-2.5M87.95,455.38h2.5M380.75,455.38h-2.5M87.95,447.73h2.5M380.75,447.73h-2.5M87.95,442.30h2.5M380.75,442.30h-2.5M87.95,438.09h2.5M380.75,438.09h-2.5M87.95,434.64h2.5M380.75,434.64h-2.5M87.95,431.73h2.5M380.75,431.73h-2.5M87.95,429.21h2.5M380.75,429.21h-2.5M87.95,426.99h2.5M380.75,426.99h-2.5M87.95,411.91h2.5M380.75,411.91h-2.5M87.95,404.26h2.5M380.75,404.26h-2.5M87.95,398.83h2.5M380.75,398.83h-2.5M87.95,394.62h2.5M380.75,394.62h-2.5M87.95,391.17h2.5M380.75,391.17h-2.5M87.95,388.26h2.5M380.75,388.26h-2.5M87.95,385.74h2.5M380.75,385.74h-2.5M87.95,383.52h2.5M380.75,383.52h-2.5M87.95,368.44h2.5M380.75,368.44h-2.5M87.95,512.16h2.5M380.75,512.16h-2.5M87.95,514.02h2.5M380.75,514.02h-2.5M87.95,515.87h2.5M380.75,515.87h-2.5M87.95,517.73h2.5M380.75,517.73h-2.5M87.95,519.59h2.5M380.75,519.59h-2.5M87.95,521.45h2.5M380.75,521.45h-2.5M87.95,523.31h2.5M380.75,523.31h-2.5M87.95,525.16h2.5M380.75,525.16h-2.5M87.95,527.02h2.5M380.75,527.02h-2.5M87.95,528.88h5.0M380.75,528.88h-5.0M87.95,530.74h2.5M380.75,530.74h-2.5M87.95,532.60h2.5M380.75,532.60h-2.5M87.95,534.45h2.5M380.75,534.45h-2.5M87.95,536.31h2.5M380.75,536.31h-2.5M87.95,538.17h2.5M380.75,538.17h-2.5M87.95,540.03h2.5M380.75,540.03h-2.5M87.95,541.89h2.5M380.75,541.89h-2.5M87.95,543.74h2.5M380.75,543.74h-2.5M87.95,545.60h2.5M380.75,545.60h-2.5M87.95,547.46h5.0M380.75,547.46h-5.0M87.95,549.32h2.5M380.75,549.32h-2.5M87.95,551.18h2.5M380.75,551.18h-2.5M87.95,553.03h2.5M380.75,553.03h-2.5M87.95,554.89h2.5M380.75,554.89h-2.5M87.95,556.75h2.5M380.75,556.75h-2.5M87.95,558.61h2.5M380.75,558.61h-2.5M87.95,560.47h2.5M380.75,560.47h-2.5M87.95,562.32h2.5M380.75,562.32h-2.5M87.95,564.18h2.5M380.75,564.18h-2.5M87.95,566.04h5.0M380.75,566.04h-5.0M87.95,567.90h2.5M380.75,567.90h-2.5M87.95,569.76h2.5M380.75,569.76h-2.5M87.95,571.61h2.5M380.75,571.61h-2.5M87.95,573.47h2.5M380.75,573.47h-2.5M87.95,575.33h2.5M380.75,575.33h-2.5M87.95,577.19h2.5M380.75,577.19h-2.5M87.95,579.05h2.5M380.75,579.05h-2.5M87.95,580.90h2.5M380.75,580.90h-2.5M87.95,582.76h2.5M380.75,582.76h-2.5M87.95,584.62h5.0M380.75,584.62h-5.0M87.95,586.48h2.5M380.75,586.48h-2.5M87.95,588.34h2.5M380.75,588.34h-2.5M87.95,590.19h2.5M380.75,590.19h-2.5M87.95,592.05h2.5M380.75,592.05h-2.5M87.95,593.91h2.5M380.75,593.91h-2.5M87.95,595.77h2.5M380.75,595.77h-2.5M87.95,597.63h2.5M380.75,597.63h-2.5M87.95,599.48h2.5M380.75,599.48h-2.5M87.95,601.34h2.5M380.75,601.34h-2.5M87.95,603.20h5.0M380.75,603.20h-5.0M87.95,605.06h2.5M380.75,605.06h-2.5M87.95,606.92h2.5M380.75,606.92h-2.5M87.95,608.77h2.5M380.75,608.77h-2.5M87.95,610.63h2.5M380.75,610.63h-2.5M87.95,612.49h2.5M380.75,612.49h-2.5M87.95,614.35h2.5M380.75,614.35h-2.5M87.95,616.21h2.5M380.75,616.21h-2.5M87.95,618.06h2.5M380.75,618.06h-2.5M87.95,619.92h2.5M380.75,619.92h-2.5M87.95,621.78h5.0M380.75,621.78h-5.0M87.95,623.64h2.5M380.75,623.64h-2.5M87.95,625.50h2.5M380.75,625.50h-2.5M87.95,627.35h2.5M380.75,627.35h-2.5M87.95,629.21h2.5M380.75,629.21h-2.5M87.95,631.07h2.5M380.75,631.07h-2.5M87.95,632.93h2.5M380.75,632.93h-2.5M87.95,634.79h2.5M380.75,634.79h-2.5M87.95,636.64h2.5M380.75,636.64h-2.5M87.95,638.50h2.5M380.75,638.50h-2.5M87.95,640.36h5.0M380.75,640.36h-5.0M87.95,642.22h2.5M380.75,642.22h-2.5M87.95,644.08h2.5M380.75,644.08h-2.5M87.95,645.93h2.5M380.75,645.93h-2.5M87.95,647.79h2.5M380.75,647.79h-2.5M87.95,649.65h2.5M380.75,649.65h-2.5M87.95,651.51h2.5M380.75,651.51h-2.5M87.95,653.37h2.5M380.75,653.37h-2.5M87.95,655.22h2.5M380.75,655.22h-2.5M87.95,799.00h5.0M380.75,799.00h-5.0M87.95,797.11h2.5M380.75,797.11h-2.5M87.95,795.22h2.5M380.75,795.22h-2.5M87.95,793.33h2.5M380.75,793.33h-2.5M87.95,791.44h2.5M380.75,791.44h-2.5M87.95,789.55h2.5M380.75,789.55h-2.5M87.95,787.66h2.5M380.75,787.66h-2.5M87.95,785.77h2.5M380.75,785.77h-2.5M87.95,783.88h2.5M380.75,783.88h-2.5M87.95,781.99h2.5M380.75,781.99h-2.5M87.95,780.10h5.0M380.75,780.10h-5.0M87.95,778.21h2.5M380.75,778.21h-2.5M87.95,776.32h2.5M380.75,776.32h-2.5M87.95,774.43h2.5M380.75,774.43h-2.5M87.95,772.54h2.5M380.75,772.54h-2.5M87.95,770.65h2.5M380.75,770.65h-2.5M87.95,768.76h2.5M380.75,768.76h-2.5M87.95,766.87h2.5M380.75,766.87h-2.5M87.95,764.98h2.5M380.75,764.98h-2.5M87.95,763.09h2.5M380.75,763.09h-2.5M87.95,761.20h5.0M380.75,761.20h-5.0M87.95,759.31h2.5M380.75,759.31h-2.5M87.95,757.42h2.5M380.75,757.42h-2.5M87.95,755.53h2.5M380.75,755.53h-2.5M87.95,753.64h2.5M380.75,753.64h-2.5M87.95,751.75h2.5M380.75,751.75h-2.5M87.95,749.86h2.5M380.75,749.86h-2.5M87.95,747.97h2.5M380.75,747.97h-2.5M87.95,746.08h2.5M380.75,746.08h-2.5M87.95,744.19h2.5M380.75,744.19h-2.5M87.95,742.30h5.0M380.75,742.30h-5.0M87.95,740.41h2.5M380.75,740.41h-2.5M87.95,738.52h2.5M380.75,738.52h-2.5M87.95,736.63h2.5M380.75,736.63h-2.5M87.95,734.74h2.5M380.75,734.74h-2.5M87.95,732.85h2.5M380.75,732.85h-2.5M87.95,730.96h2.5M380.75,730.96h-2.5M87.95,729.07h2.5M380.75,729.07h-2.5M87.95,727.18h2.5M380.75,727.18h-2.5M87.95,725.29h2.5M380.75,725.29h-2.5M87.95,723.40h5.0M380.75,723.40h-5.0M87.95,721.51h2.5M380.75,721.51h-2.5M87.95,719.62h2.5M380.75,719.62h-2.5M87.95,717.73h2.5M380.75,717.73h-2.5M87.95,715.84h2.5M380.75,715.84h-2.5M87.95,713.95h2.5M380.75,713.95h-2.5M87.95,712.06h2.5M380.75,712.06h-2.5M87.95,710.17h2.5M380.75,710.17h-2.5M87.95,708.28h2.5M380.75,708.28h-2.5M87.95,706.39h2.5M380.75,706.39h-2.5M87.95,704.50h5.0M380.75,704.50h-5.0M87.95,702.61h2.5M380.75,702.61h-2.5M87.95,700.72h2.5M380.75,700.72h-2.5M87.95,698.83h2.5M380.75,698.83h-2.5M87.95,696.94h2.5M380.75,696.94h-2.5M87.95,695.05h2.5M380.75,695.05h-2.5M87.95,693.16h2.5M380.75,693.16h-2.5M87.95,691.27h2.5M380.75,691.27h-2.5M87.95,689.38h2.5M380.75,689.38h-2.5M87.95,687.49h2.5M380.75,687.49h-2.5M87.95,685.60h5.0M380.75,685.60h-5.0M87.95,683.71h2.5M380.75,683.71h-2.5M87.95,681.82h2.5M380.75,681.82h-2.5M87.95,679.93h2.5M380.75,679.93h-2.5M87.95,678.04h2.5M380.75,678.04h-2.5M87.95,676.15h2.5M380.75,676.15h-2.5M87.95,674.26h2.5M380.75,674.26h-2.5M87.95,672.37h2.5M380.75,672.37h-2.5M87.95,670.48h2.5M380.75,670.48h-2.5M87.95,668.59h2.5M380.75,668.59h-2.5M87.95,666.70h5.0M380.75,666.70h-5.0M87.95,664.81h2.5M380.75,664.81h-2.5M87.95,662.92h2.5M380.75,662.92h-2.5M87.95,661.03h2.5M380.75,661.03h-2.5M87.95,659.14h2.5M380.75,659.14h-2.5M87.95,657.25h2.5M380.75,657.25h-2.5M87.95,655.36h2.5M380.75,655.36h-2.5" fill="none" stroke="#000" stroke-width="1"/>
<text x="80.5" y="86.40" text-anchor="end">10<tspan dy="-5.2" font-size="9">3</tspan></text>
<text x="80.5" y="118.10" text-anchor="end">10<tspan dy="-5.2" font-size="9">2</tspan></text>
<text x="80.5" y="149.80" text-anchor="end">10<tspan dy="-5.2" font-size="9">1</tspan></text>
<text x="80.5" y="181.50" text-anchor="end">10<tspan dy="-5.2" font-size="9">0</tspan></text>
<text x="80.5" y="213.20" text-anchor="end">10<tspan dy="-5.2" font-size="9">-1</tspan></text>
<text x="80.5" y="237.00" text-anchor="end">1</text>
<text x="80.5" y="287.10" text-anchor="end">0.1</text>
<text x="80.5" y="337.20" text-anchor="end">0.01</text>
<text x="80.5" y="385.43" text-anchor="end">10</text>
<text x="80.5" y="428.90" text-anchor="end">1</text>
<text x="80.5" y="472.37" text-anchor="end">0.1</text>
<text x="80.5" y="515.84" text-anchor="end">0.01</text>
<text x="80.5" y="532.78" text-anchor="end">-0.1</text>
<text x="80.5" y="551.36" text-anchor="end">-0.2</text>
<text x="80.5" y="569.94" text-anchor="end">-0.3</text>
<text x="80.5" y="588.52" text-anchor="end">-0.4</text>
<text x="80.5" y="607.10" text-anchor="end">-0.5</text>
<text x="80.5" y="625.68" text-anchor="end">-0.6</text>
<text x="80.5" y="644.26" text-anchor="end">-0.7</text>
<text x="80.5" y="802.90" text-anchor="end">0</text>
<text x="80.5" y="784.00" text-anchor="end">50</text>
<text x="80.5" y="765.10" text-anchor="end">100</text>
<text x="80.5" y="746.20" text-anchor="end">150</text>
<text x="80.5" y="727.30" text-anchor="end">200</text>
<text x="80.5" y="708.40" text-anchor="end">250</text>
<text x="80.5" y="689.50" text-anchor="end">300</text>
<text x="80.5" y="670.60" text-anchor="end">350</text>
<text x="103.93" y="240.00" text-anchor="middle">0.1</text>
<text x="196.73" y="240.00" text-anchor="middle">1</text>
<text x="289.54" y="240.00" text-anchor="middle">10</text>
<text x="382.35" y="240.00" text-anchor="middle">100</text>
<text x="103.93" y="383.50" text-anchor="middle">0.1</text>
<text x="196.73" y="383.50" text-anchor="middle">1</text>
<text x="289.54" y="383.50" text-anchor="middle">10</text>
<text x="382.35" y="383.50" text-anchor="middle">100</text>
<text x="103.93" y="527.00" text-anchor="middle">0.1</text>
<text x="196.73" y="527.00" text-anchor="middle">1</text>
<text x="289.54" y="527.00" text-anchor="middle">10</text>
<text x="382.35" y="527.00" text-anchor="middle">100</text>
<text x="103.93" y="670.30" text-anchor="middle">0.1</text>
<text x="196.73" y="670.30" text-anchor="middle">1</text>
<text x="289.54" y="670.30" text-anchor="middle">10</text>
<text x="382.35" y="670.30" text-anchor="middle">100</text>
<text x="103.93" y="813.60" text-anchor="middle">0.1</text>
<text x="196.73" y="813.60" text-anchor="middle">1</text>
<text x="289.54" y="813.60" text-anchor="middle">10</text>
<text x="382.35" y="813.60" text-anchor="middle">100</text>
<text x="234.8" y="257.10" text-anchor="middle">r/kpc</text>
<text x="234.8" y="831.70" text-anchor="middle">r/kpc</text>
<text x="167.20" y="74" text-anchor="middle">0.1</text>
<text x="260.01" y="74" text-anchor="middle">1</text>
<text x="352.82" y="74" text-anchor="middle">10</text>
<text x="234" y="33.4" text-anchor="middle">M89 (NGC 4552)</text>
<text x="234.1" y="56" text-anchor="middle">r / arcmin</text>
<text transform="translate(51.9,152.5) rotate(-90)" text-anchor="middle" font-size="11.5">projected mass, normalized</text>
<text transform="translate(48.8,297) rotate(-90)" text-anchor="middle" font-size="11.35">M<tspan dy="2.8" font-size="9">total</tspan><tspan dy="-2.8">(r) in 10</tspan><tspan dy="-5.4" dx="0.7" font-size="8.4">12</tspan><tspan dy="5.4"> M</tspan><tspan dy="2.8" font-size="9">sun</tspan><tspan dy="-2.8"></tspan></text>
<text transform="translate(48.8,440) rotate(-90)" text-anchor="middle" font-size="11.35">-g(r) in 10<tspan dy="-5.4" dx="0.7" font-size="8.4">-7</tspan><tspan dy="5.4">cm/s</tspan><tspan dy="-5.4" dx="0.7" font-size="8.4">2</tspan><tspan dy="5.4"></tspan></text>
<text transform="translate(55.6,583.5) rotate(-90)" text-anchor="middle" font-size="11.35">Phi(r) in 10<tspan dy="-5.4" dx="0.7" font-size="8.4">6</tspan><tspan dy="5.4"> km</tspan><tspan dy="-5.4" dx="0.7" font-size="8.4">2</tspan><tspan dy="5.4">/s</tspan><tspan dy="-5.4" dx="0.7" font-size="8.4">2</tspan><tspan dy="5.4"></tspan></text>
<text transform="translate(54.0,727) rotate(-90)" text-anchor="middle" font-size="11.35">v<tspan dy="2.8" font-size="9">circ</tspan><tspan dy="-2.8">(r) in km/s</tspan></text>
<g font-size="11.42"><text x="327.8" y="95.5" text-anchor="end">Kormendy+ 09</text>
<text x="327.8" y="108" text-anchor="end">stars only: a<tspan dy="2.0" font-size="7.5" stroke="none">*</tspan><tspan dy="-2.0" dx="0.6">=6.2, a</tspan><tspan dy="2.8" font-size="9">c</tspan><tspan dy="-2.8">=0.7, M</tspan><tspan dy="2.0" font-size="7.5" stroke="none">*</tspan><tspan dy="-2.0" dx="0.6">=0.15, M</tspan><tspan dy="2.8" font-size="9">c</tspan><tspan dy="-2.8">=0.050</tspan></text>
<text x="327.8" y="121.0" text-anchor="end">a<tspan dy="2.8" font-size="9">DM</tspan><tspan dy="-2.8">=40.0, M</tspan><tspan dy="2.8" font-size="9">DM</tspan><tspan dy="-2.8">=3.16</tspan></text>
<text x="327.8" y="133.8" text-anchor="end">a<tspan dy="2.8" font-size="9">DM</tspan><tspan dy="-2.8">=65.0, M</tspan><tspan dy="2.8" font-size="9">DM</tspan><tspan dy="-2.8">=3.16</tspan></text>
<path d="M348.15,92.5h4.5M350.4,90.25v4.5" stroke="#000" stroke-width="0.7" fill="none"/>
<path d="M334.1,104.8H367.1" stroke="#00ffff" stroke-width="1.55" stroke-dasharray="15 4.7 2.5 5" fill="none"/>
<path d="M334.1,117.3H367.1" stroke="#ff0000" stroke-width="2.4" stroke-dasharray="10 5" fill="none"/>
<path d="M334.1,130.1H367.1" stroke="#0000ff" stroke-width="2.4" stroke-dasharray="10 5" fill="none"/>
<text x="269.3" y="207">a<tspan dy="2.8" font-size="9">x</tspan><tspan dy="-2.8">/kpc, M</tspan><tspan dy="2.8" font-size="9">x</tspan><tspan dy="-2.8">/10</tspan><tspan dy="-5.4" dx="0.7" font-size="8.4">12</tspan><tspan dy="5.4">M</tspan><tspan dy="2.8" font-size="9">sun</tspan><tspan dy="-2.8"></tspan></text>
<text x="269.3" y="217.5">thin=DM only</text></g>
</svg>
</body></html>
